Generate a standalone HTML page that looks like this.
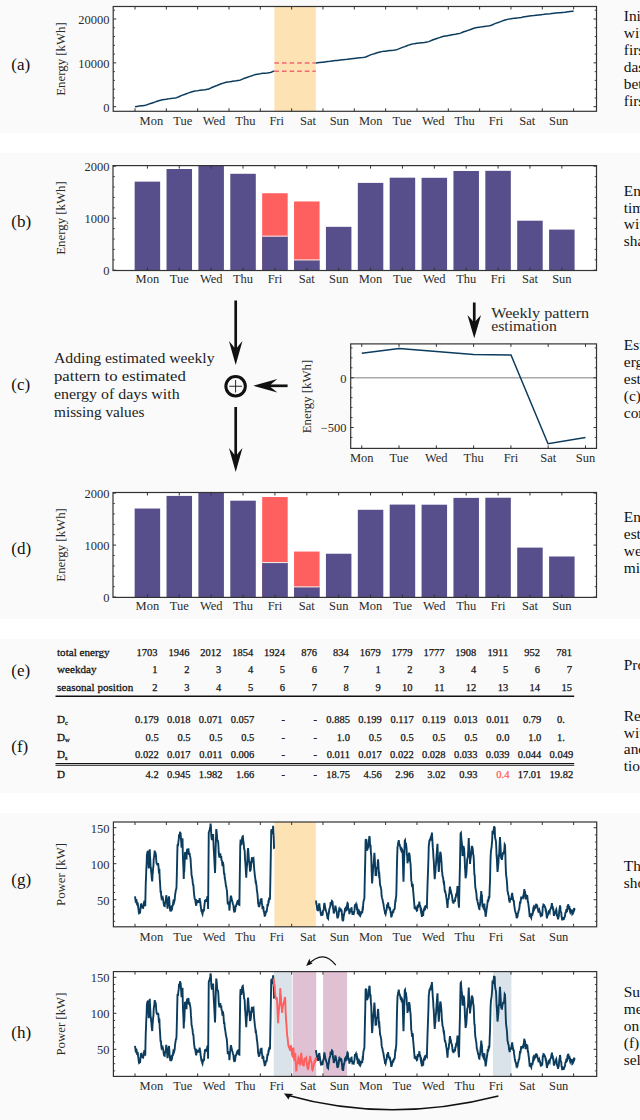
<!DOCTYPE html><html><head><meta charset="utf-8"><style>html,body{margin:0;padding:0;width:640px;height:1120px;overflow:hidden;background:#fff}</style></head><body><svg width="640" height="1120" viewBox="0 0 640 1120" style="display:block;font-family:'Liberation Serif', serif"><rect x="0" y="0" width="640" height="1120" fill="#ffffff"/>
<rect x="0" y="0" width="640" height="133" fill="#fafafa"/>
<rect x="0" y="153" width="640" height="466" fill="#fafafa"/>
<rect x="0" y="639" width="640" height="154" fill="#fafafa"/>
<rect x="0" y="813" width="640" height="307" fill="#fafafa"/>
<rect x="113.2" y="6.5" width="483.3" height="104.8" fill="#fff"/>
<rect x="274.4" y="6.5" width="41.4" height="104.8" fill="#fde3b4"/>
<path d="M135 106.7 L136.9 106.39 L139.4 106.06 L141.25 105.83 L142.5 105.66 L144.4 105.39 L145.25 105.27 L146 105.11 L146.9 104.81 L148.1 104.36 L148.75 104.13 L149.75 103.78 L150.6 103.47 L152.25 102.99 L153.75 102.52 L154.75 102.14 L156.25 101.58 L158.1 100.94 L159.4 100.52 L160.6 100.21 L162.5 99.84 L164.4 99.54 L166.25 99.25 L166.33 99.23 L166.33 99.23 L167.5 99.07 L168.75 98.88 L170.6 98.6 L172.5 98.35 L175 97.95 L176.5 97.65 L177.5 97.32 L178.75 96.79 L180 96.2 L181.25 95.63 L182.5 95.09 L183.75 94.67 L185 94.25 L186.25 93.79 L187.5 93.33 L189.4 92.59 L191.25 91.95 L193.1 91.45 L195 91.07 L196.25 90.88 L197.66 90.7 L197.66 90.7 L198.1 90.63 L200 90.32 L202.5 90.01 L205 89.71 L207.5 89.31 L208.1 89.22 L208.75 89.02 L210.6 88.12 L211.9 87.51 L213.1 86.97 L215 86.27 L216.25 85.81 L218.1 84.98 L219.4 84.48 L221.25 83.82 L222.5 83.39 L224.4 82.81 L226.25 82.35 L228.1 82.02 L228.99 81.88 L228.99 81.88 L229.4 81.83 L230.6 81.64 L232.5 81.32 L234.4 81.07 L236.25 80.84 L238.1 80.55 L239.4 80.35 L240.25 80.11 L242.5 79.12 L244.4 78.31 L246.25 77.69 L248.1 77.07 L250 76.4 L251.9 75.78 L253.75 75.13 L255.6 74.57 L257.5 74.15 L258.75 73.95 L260.32 73.75 L260.32 73.75 L261.25 73.61 L263.1 73.36 L265 73.16 L267.5 72.91 L270 72.58 L271.25 72.22 L273.1 71.42 L274.4 70.9" fill="none" stroke="#0b3c5d" stroke-width="1.5" stroke-linejoin="round"/>
<path d="M315.8 63 L316 62.97 L317.5 62.78 L319.4 62.55 L322.5 62.2 L322.98 62.16 L322.98 62.16 L324.4 61.94 L326.25 61.7 L327.5 61.58 L330 61.32 L332.25 61 L333.75 60.81 L335.6 60.59 L337.5 60.38 L340 60.11 L343.1 59.8 L345 59.62 L347.5 59.29 L349.4 59.05 L351.25 58.83 L353.75 58.55 L354.31 58.5 L354.31 58.5 L355.6 58.31 L357.5 58.06 L360 57.82 L362.5 57.57 L364.4 57.3 L365.6 56.94 L367.5 56.18 L369.4 55.39 L371.25 54.64 L372.1 54.39 L374.4 53.7 L375.6 53.31 L378.1 52.55 L380 52.01 L381.9 51.63 L383.75 51.35 L385.6 51.14 L385.64 51.14 L385.64 51.14 L388.1 50.77 L390 50.52 L391.25 50.4 L393.1 50.21 L395 49.97 L396.25 49.77 L397.5 49.4 L398.75 48.87 L400.6 48.09 L402.5 47.35 L403.5 47.04 L404.75 46.64 L406.25 46.03 L407.5 45.56 L409.4 44.9 L410.6 44.49 L411.25 44.3 L413.1 43.88 L414.4 43.65 L416.9 43.34 L416.97 43.34 L416.97 43.34 L419.4 42.98 L421.9 42.68 L424.4 42.43 L426.9 42.11 L428.75 41.6 L430 41.09 L431.9 40.27 L433.1 39.76 L434.75 39.23 L437.5 38.32 L438.75 37.88 L440.25 37.38 L441.9 36.82 L443.75 36.33 L445.6 35.95 L447.5 35.65 L448.3 35.54 L448.3 35.54 L450 35.17 L451.9 34.79 L453.75 34.49 L455.6 34.19 L457.5 33.83 L459 33.57 L460.6 33.11 L461.25 32.82 L462.5 32.29 L463.75 31.8 L465.6 31.18 L466.9 30.82 L468.75 30.16 L470 29.7 L471.9 29.01 L473.75 28.3 L475 27.92 L476.9 27.55 L479.4 27.2 L479.63 27.18 L479.63 27.18 L481.25 26.88 L482.5 26.68 L484.4 26.44 L485.6 26.32 L487.5 26.1 L489.4 25.81 L490.6 25.5 L492.5 24.77 L494.4 23.92 L496.25 23.14 L497.5 22.73 L500 21.87 L501.9 21.17 L505 20.06 L506.25 19.65 L507.5 19.37 L509.4 19.04 L510.96 18.8 L510.96 18.8 L512.5 18.51 L515 18.13 L516.9 17.95 L518.75 17.77 L521.25 17.41 L523.1 17.07 L526.25 16.49 L528.1 16.18 L529.4 16.01 L531.25 15.85 L533.75 15.61 L536.25 15.29 L538.75 14.98 L541.25 14.72 L542.29 14.62 L542.29 14.62 L544.4 14.32 L546.9 14.03 L550 13.72 L551.9 13.47 L553.75 13.26 L556.25 13 L558.1 12.83 L560 12.65 L562.5 12.4 L565 12.19 L568.1 11.83 L570 11.58 L572.5 11.3 L573.62 11.2" fill="none" stroke="#0b3c5d" stroke-width="1.5" stroke-linejoin="round"/>
<path d="M274.4 63H315.8 M274.4 71.25H315.8" stroke="#f06872" stroke-width="1.3" stroke-dasharray="4.6 3"/>
<rect x="113.2" y="6.5" width="483.3" height="104.8" fill="none" stroke="#333333" stroke-width="1.2"/>
<path d="M135 111.3V108.3 M135 6.5V9.5 M166.33 111.3V108.3 M166.33 6.5V9.5 M197.66 111.3V108.3 M197.66 6.5V9.5 M228.99 111.3V108.3 M228.99 6.5V9.5 M260.32 111.3V108.3 M260.32 6.5V9.5 M291.65 111.3V108.3 M291.65 6.5V9.5 M322.98 111.3V108.3 M322.98 6.5V9.5 M354.31 111.3V108.3 M354.31 6.5V9.5 M385.64 111.3V108.3 M385.64 6.5V9.5 M416.97 111.3V108.3 M416.97 6.5V9.5 M448.3 111.3V108.3 M448.3 6.5V9.5 M479.63 111.3V108.3 M479.63 6.5V9.5 M510.96 111.3V108.3 M510.96 6.5V9.5 M542.29 111.3V108.3 M542.29 6.5V9.5 M573.62 111.3V108.3 M573.62 6.5V9.5 " stroke="#333333" stroke-width="1"/>
<path d="M113.2 106.7H116.2 M596.5 106.7H593.5 M113.2 62.85H116.2 M596.5 62.85H593.5 M113.2 19H116.2 M596.5 19H593.5 " stroke="#333333" stroke-width="1"/>
<path d="M113.2 97.93H115 M596.5 97.93H594.7 M113.2 89.16H115 M596.5 89.16H594.7 M113.2 80.39H115 M596.5 80.39H594.7 M113.2 71.62H115 M596.5 71.62H594.7 M113.2 54.08H115 M596.5 54.08H594.7 M113.2 45.31H115 M596.5 45.31H594.7 M113.2 36.54H115 M596.5 36.54H594.7 M113.2 27.77H115 M596.5 27.77H594.7 M113.2 10.23H115 M596.5 10.23H594.7 " stroke="#333333" stroke-width="0.9"/>
<text x="0" y="0" transform="translate(151.36 124.5) scale(1.0400 1)" font-size="12" text-anchor="middle" fill="#2b2b2b" >Mon</text>
<text x="0" y="0" transform="translate(182.69 124.5) scale(1.0400 1)" font-size="12" text-anchor="middle" fill="#2b2b2b" >Tue</text>
<text x="0" y="0" transform="translate(214.02 124.5) scale(1.0400 1)" font-size="12" text-anchor="middle" fill="#2b2b2b" >Wed</text>
<text x="0" y="0" transform="translate(245.35 124.5) scale(1.0400 1)" font-size="12" text-anchor="middle" fill="#2b2b2b" >Thu</text>
<text x="0" y="0" transform="translate(276.68 124.5) scale(1.0400 1)" font-size="12" text-anchor="middle" fill="#2b2b2b" >Fri</text>
<text x="0" y="0" transform="translate(308.01 124.5) scale(1.0400 1)" font-size="12" text-anchor="middle" fill="#2b2b2b" >Sat</text>
<text x="0" y="0" transform="translate(339.34 124.5) scale(1.0400 1)" font-size="12" text-anchor="middle" fill="#2b2b2b" >Sun</text>
<text x="0" y="0" transform="translate(370.67 124.5) scale(1.0400 1)" font-size="12" text-anchor="middle" fill="#2b2b2b" >Mon</text>
<text x="0" y="0" transform="translate(402 124.5) scale(1.0400 1)" font-size="12" text-anchor="middle" fill="#2b2b2b" >Tue</text>
<text x="0" y="0" transform="translate(433.33 124.5) scale(1.0400 1)" font-size="12" text-anchor="middle" fill="#2b2b2b" >Wed</text>
<text x="0" y="0" transform="translate(464.66 124.5) scale(1.0400 1)" font-size="12" text-anchor="middle" fill="#2b2b2b" >Thu</text>
<text x="0" y="0" transform="translate(495.99 124.5) scale(1.0400 1)" font-size="12" text-anchor="middle" fill="#2b2b2b" >Fri</text>
<text x="0" y="0" transform="translate(527.33 124.5) scale(1.0400 1)" font-size="12" text-anchor="middle" fill="#2b2b2b" >Sat</text>
<text x="0" y="0" transform="translate(558.65 124.5) scale(1.0400 1)" font-size="12" text-anchor="middle" fill="#2b2b2b" >Sun</text>
<text x="0" y="0" transform="translate(109.5 111.5) scale(1.0400 1)" font-size="12" text-anchor="end" fill="#2b2b2b" >0</text>
<text x="0" y="0" transform="translate(109.5 67.65) scale(1.0400 1)" font-size="12" text-anchor="end" fill="#2b2b2b" >10000</text>
<text x="0" y="0" transform="translate(109.5 23.8) scale(1.0400 1)" font-size="12" text-anchor="end" fill="#2b2b2b" >20000</text>
<text x="0" y="0" font-size="12" text-anchor="middle" fill="#2b2b2b" transform="translate(60.8 59) rotate(-90) scale(1.0700 1)" dominant-baseline="central">Energy [kWh]</text>
<text x="11.3" y="70" font-size="17" text-anchor="start" fill="#111" >(a)</text>
<rect x="113" y="165.6" width="483.5" height="104.9" fill="#fff"/>
<g clip-path="url(#clipb0)">
<rect x="134.65" y="181.64" width="25.5" height="88.56" fill="#574f8b"/>
<rect x="166.53" y="169.01" width="25.5" height="101.19" fill="#574f8b"/>
<rect x="198.41" y="165.58" width="25.5" height="104.62" fill="#574f8b"/>
<rect x="230.29" y="173.79" width="25.5" height="96.41" fill="#574f8b"/>
<rect x="262.17" y="193.24" width="25.5" height="76.96" fill="#fe5f5f"/>
<rect x="262.17" y="236.45" width="25.5" height="33.75" fill="#574f8b"/>
<rect x="262.17" y="235.65" width="25.5" height="1" fill="#f4f0f0"/>
<rect x="294.05" y="201.46" width="25.5" height="68.74" fill="#fe5f5f"/>
<rect x="294.05" y="260.22" width="25.5" height="9.98" fill="#574f8b"/>
<rect x="294.05" y="259.42" width="25.5" height="1" fill="#f4f0f0"/>
<rect x="325.93" y="226.83" width="25.5" height="43.37" fill="#574f8b"/>
<rect x="357.81" y="182.89" width="25.5" height="87.31" fill="#574f8b"/>
<rect x="389.69" y="177.69" width="25.5" height="92.51" fill="#574f8b"/>
<rect x="421.57" y="177.8" width="25.5" height="92.4" fill="#574f8b"/>
<rect x="453.45" y="170.98" width="25.5" height="99.22" fill="#574f8b"/>
<rect x="485.33" y="170.83" width="25.5" height="99.37" fill="#574f8b"/>
<rect x="517.21" y="220.7" width="25.5" height="49.5" fill="#574f8b"/>
<rect x="549.09" y="229.59" width="25.5" height="40.61" fill="#574f8b"/>
</g>
<clipPath id="clipb0"><rect x="113" y="165.6" width="483.5" height="104.9"/></clipPath>
<rect x="113" y="165.6" width="483.5" height="104.9" fill="none" stroke="#333333" stroke-width="1.2"/>
<path d="M147.4 270.5V267.5 M147.4 165.6V168.6 M179.28 270.5V267.5 M179.28 165.6V168.6 M211.16 270.5V267.5 M211.16 165.6V168.6 M243.04 270.5V267.5 M243.04 165.6V168.6 M274.92 270.5V267.5 M274.92 165.6V168.6 M306.8 270.5V267.5 M306.8 165.6V168.6 M338.68 270.5V267.5 M338.68 165.6V168.6 M370.56 270.5V267.5 M370.56 165.6V168.6 M402.44 270.5V267.5 M402.44 165.6V168.6 M434.32 270.5V267.5 M434.32 165.6V168.6 M466.2 270.5V267.5 M466.2 165.6V168.6 M498.08 270.5V267.5 M498.08 165.6V168.6 M529.96 270.5V267.5 M529.96 165.6V168.6 M561.84 270.5V267.5 M561.84 165.6V168.6 " stroke="#333333" stroke-width="1"/>
<path d="M113 270.2H116 M596.5 270.2H593.5 M113 218.2H116 M596.5 218.2H593.5 M113 166.2H116 M596.5 166.2H593.5 " stroke="#333333" stroke-width="1"/>
<path d="M113 259.8H114.8 M596.5 259.8H594.7 M113 249.4H114.8 M596.5 249.4H594.7 M113 239H114.8 M596.5 239H594.7 M113 228.6H114.8 M596.5 228.6H594.7 M113 207.8H114.8 M596.5 207.8H594.7 M113 197.4H114.8 M596.5 197.4H594.7 M113 187H114.8 M596.5 187H594.7 M113 176.6H114.8 M596.5 176.6H594.7 " stroke="#333333" stroke-width="0.9"/>
<text x="0" y="0" transform="translate(147.4 282.9) scale(1.0400 1)" font-size="12" text-anchor="middle" fill="#2b2b2b" >Mon</text>
<text x="0" y="0" transform="translate(179.28 282.9) scale(1.0400 1)" font-size="12" text-anchor="middle" fill="#2b2b2b" >Tue</text>
<text x="0" y="0" transform="translate(211.16 282.9) scale(1.0400 1)" font-size="12" text-anchor="middle" fill="#2b2b2b" >Wed</text>
<text x="0" y="0" transform="translate(243.04 282.9) scale(1.0400 1)" font-size="12" text-anchor="middle" fill="#2b2b2b" >Thu</text>
<text x="0" y="0" transform="translate(274.92 282.9) scale(1.0400 1)" font-size="12" text-anchor="middle" fill="#2b2b2b" >Fri</text>
<text x="0" y="0" transform="translate(306.8 282.9) scale(1.0400 1)" font-size="12" text-anchor="middle" fill="#2b2b2b" >Sat</text>
<text x="0" y="0" transform="translate(338.68 282.9) scale(1.0400 1)" font-size="12" text-anchor="middle" fill="#2b2b2b" >Sun</text>
<text x="0" y="0" transform="translate(370.56 282.9) scale(1.0400 1)" font-size="12" text-anchor="middle" fill="#2b2b2b" >Mon</text>
<text x="0" y="0" transform="translate(402.44 282.9) scale(1.0400 1)" font-size="12" text-anchor="middle" fill="#2b2b2b" >Tue</text>
<text x="0" y="0" transform="translate(434.32 282.9) scale(1.0400 1)" font-size="12" text-anchor="middle" fill="#2b2b2b" >Wed</text>
<text x="0" y="0" transform="translate(466.2 282.9) scale(1.0400 1)" font-size="12" text-anchor="middle" fill="#2b2b2b" >Thu</text>
<text x="0" y="0" transform="translate(498.08 282.9) scale(1.0400 1)" font-size="12" text-anchor="middle" fill="#2b2b2b" >Fri</text>
<text x="0" y="0" transform="translate(529.96 282.9) scale(1.0400 1)" font-size="12" text-anchor="middle" fill="#2b2b2b" >Sat</text>
<text x="0" y="0" transform="translate(561.84 282.9) scale(1.0400 1)" font-size="12" text-anchor="middle" fill="#2b2b2b" >Sun</text>
<text x="0" y="0" transform="translate(109.5 275) scale(1.0400 1)" font-size="12" text-anchor="end" fill="#2b2b2b" >0</text>
<text x="0" y="0" transform="translate(109.5 223) scale(1.0400 1)" font-size="12" text-anchor="end" fill="#2b2b2b" >1000</text>
<text x="0" y="0" transform="translate(109.5 171) scale(1.0400 1)" font-size="12" text-anchor="end" fill="#2b2b2b" >2000</text>
<text x="0" y="0" font-size="12" text-anchor="middle" fill="#2b2b2b" transform="translate(60.8 218) rotate(-90) scale(1.0700 1)" dominant-baseline="central">Energy [kWh]</text>
<text x="11.3" y="227" font-size="17" text-anchor="start" fill="#111" >(b)</text>
<rect x="113" y="492.5" width="483.5" height="104.9" fill="#fff"/>
<g clip-path="url(#clipb326)">
<rect x="134.65" y="508.54" width="25.5" height="88.56" fill="#574f8b"/>
<rect x="166.53" y="495.91" width="25.5" height="101.19" fill="#574f8b"/>
<rect x="198.41" y="492.48" width="25.5" height="104.62" fill="#574f8b"/>
<rect x="230.29" y="500.69" width="25.5" height="96.41" fill="#574f8b"/>
<rect x="262.17" y="497.05" width="25.5" height="100.05" fill="#fe5f5f"/>
<rect x="262.17" y="562.88" width="25.5" height="34.22" fill="#574f8b"/>
<rect x="262.17" y="562.08" width="25.5" height="1" fill="#f4f0f0"/>
<rect x="294.05" y="551.55" width="25.5" height="45.55" fill="#fe5f5f"/>
<rect x="294.05" y="587.17" width="25.5" height="9.93" fill="#574f8b"/>
<rect x="294.05" y="586.37" width="25.5" height="1" fill="#f4f0f0"/>
<rect x="325.93" y="553.73" width="25.5" height="43.37" fill="#574f8b"/>
<rect x="357.81" y="509.79" width="25.5" height="87.31" fill="#574f8b"/>
<rect x="389.69" y="504.59" width="25.5" height="92.51" fill="#574f8b"/>
<rect x="421.57" y="504.7" width="25.5" height="92.4" fill="#574f8b"/>
<rect x="453.45" y="497.88" width="25.5" height="99.22" fill="#574f8b"/>
<rect x="485.33" y="497.73" width="25.5" height="99.37" fill="#574f8b"/>
<rect x="517.21" y="547.6" width="25.5" height="49.5" fill="#574f8b"/>
<rect x="549.09" y="556.49" width="25.5" height="40.61" fill="#574f8b"/>
</g>
<clipPath id="clipb326"><rect x="113" y="492.5" width="483.5" height="104.9"/></clipPath>
<rect x="113" y="492.5" width="483.5" height="104.9" fill="none" stroke="#333333" stroke-width="1.2"/>
<path d="M147.4 597.4V594.4 M147.4 492.5V495.5 M179.28 597.4V594.4 M179.28 492.5V495.5 M211.16 597.4V594.4 M211.16 492.5V495.5 M243.04 597.4V594.4 M243.04 492.5V495.5 M274.92 597.4V594.4 M274.92 492.5V495.5 M306.8 597.4V594.4 M306.8 492.5V495.5 M338.68 597.4V594.4 M338.68 492.5V495.5 M370.56 597.4V594.4 M370.56 492.5V495.5 M402.44 597.4V594.4 M402.44 492.5V495.5 M434.32 597.4V594.4 M434.32 492.5V495.5 M466.2 597.4V594.4 M466.2 492.5V495.5 M498.08 597.4V594.4 M498.08 492.5V495.5 M529.96 597.4V594.4 M529.96 492.5V495.5 M561.84 597.4V594.4 M561.84 492.5V495.5 " stroke="#333333" stroke-width="1"/>
<path d="M113 597.1H116 M596.5 597.1H593.5 M113 545.1H116 M596.5 545.1H593.5 M113 493.1H116 M596.5 493.1H593.5 " stroke="#333333" stroke-width="1"/>
<path d="M113 586.7H114.8 M596.5 586.7H594.7 M113 576.3H114.8 M596.5 576.3H594.7 M113 565.9H114.8 M596.5 565.9H594.7 M113 555.5H114.8 M596.5 555.5H594.7 M113 534.7H114.8 M596.5 534.7H594.7 M113 524.3H114.8 M596.5 524.3H594.7 M113 513.9H114.8 M596.5 513.9H594.7 M113 503.5H114.8 M596.5 503.5H594.7 " stroke="#333333" stroke-width="0.9"/>
<text x="0" y="0" transform="translate(147.4 609.8) scale(1.0400 1)" font-size="12" text-anchor="middle" fill="#2b2b2b" >Mon</text>
<text x="0" y="0" transform="translate(179.28 609.8) scale(1.0400 1)" font-size="12" text-anchor="middle" fill="#2b2b2b" >Tue</text>
<text x="0" y="0" transform="translate(211.16 609.8) scale(1.0400 1)" font-size="12" text-anchor="middle" fill="#2b2b2b" >Wed</text>
<text x="0" y="0" transform="translate(243.04 609.8) scale(1.0400 1)" font-size="12" text-anchor="middle" fill="#2b2b2b" >Thu</text>
<text x="0" y="0" transform="translate(274.92 609.8) scale(1.0400 1)" font-size="12" text-anchor="middle" fill="#2b2b2b" >Fri</text>
<text x="0" y="0" transform="translate(306.8 609.8) scale(1.0400 1)" font-size="12" text-anchor="middle" fill="#2b2b2b" >Sat</text>
<text x="0" y="0" transform="translate(338.68 609.8) scale(1.0400 1)" font-size="12" text-anchor="middle" fill="#2b2b2b" >Sun</text>
<text x="0" y="0" transform="translate(370.56 609.8) scale(1.0400 1)" font-size="12" text-anchor="middle" fill="#2b2b2b" >Mon</text>
<text x="0" y="0" transform="translate(402.44 609.8) scale(1.0400 1)" font-size="12" text-anchor="middle" fill="#2b2b2b" >Tue</text>
<text x="0" y="0" transform="translate(434.32 609.8) scale(1.0400 1)" font-size="12" text-anchor="middle" fill="#2b2b2b" >Wed</text>
<text x="0" y="0" transform="translate(466.2 609.8) scale(1.0400 1)" font-size="12" text-anchor="middle" fill="#2b2b2b" >Thu</text>
<text x="0" y="0" transform="translate(498.08 609.8) scale(1.0400 1)" font-size="12" text-anchor="middle" fill="#2b2b2b" >Fri</text>
<text x="0" y="0" transform="translate(529.96 609.8) scale(1.0400 1)" font-size="12" text-anchor="middle" fill="#2b2b2b" >Sat</text>
<text x="0" y="0" transform="translate(561.84 609.8) scale(1.0400 1)" font-size="12" text-anchor="middle" fill="#2b2b2b" >Sun</text>
<text x="0" y="0" transform="translate(109.5 601.9) scale(1.0400 1)" font-size="12" text-anchor="end" fill="#2b2b2b" >0</text>
<text x="0" y="0" transform="translate(109.5 549.9) scale(1.0400 1)" font-size="12" text-anchor="end" fill="#2b2b2b" >1000</text>
<text x="0" y="0" transform="translate(109.5 497.9) scale(1.0400 1)" font-size="12" text-anchor="end" fill="#2b2b2b" >2000</text>
<text x="0" y="0" font-size="12" text-anchor="middle" fill="#2b2b2b" transform="translate(60.8 544.9) rotate(-90) scale(1.0700 1)" dominant-baseline="central">Energy [kWh]</text>
<text x="11.3" y="553.6" font-size="17" text-anchor="start" fill="#111" >(d)</text>
<text x="11.3" y="390" font-size="17" text-anchor="start" fill="#111" >(c)</text>
<text x="0" y="0" transform="translate(54 363) scale(1.1560 1)" font-size="13.6" text-anchor="start" fill="#222" >Adding estimated weekly</text>
<text x="0" y="0" transform="translate(54 380.9) scale(1.2300 1)" font-size="13.6" text-anchor="start" fill="#222" >pattern to estimated</text>
<text x="0" y="0" transform="translate(54 398.8) scale(1.1700 1)" font-size="13.6" text-anchor="start" fill="#222" >energy of days with</text>
<text x="0" y="0" transform="translate(54 416.7) scale(1.1250 1)" font-size="13.6" text-anchor="start" fill="#222" >missing values</text>
<path d="M235.7 300.5V355" stroke="#111" stroke-width="2.7"/>
<path d="M235.7 365 L228.95 341 Q233.5 346.3 234.3 347.5 L237.1 347.5 Q237.9 346.3 242.45 341 Z" fill="#111"/>
<path d="M235.7 407V462" stroke="#111" stroke-width="2.7"/>
<path d="M235.7 472 L228.95 448 Q233.5 453.3 234.3 454.5 L237.1 454.5 Q237.9 453.3 242.45 448 Z" fill="#111"/>
<path d="M287.6 385.8H263" stroke="#111" stroke-width="2.7"/>
<path d="M253.3 385.8 L246.55 361.8 Q251.1 367.1 251.9 368.3 L254.7 368.3 Q255.5 367.1 260.05 361.8 Z" fill="#111" transform="rotate(90 253.3 385.8)"/>
<circle cx="235.6" cy="386.25" r="9.75" fill="none" stroke="#111" stroke-width="3"/>
<path d="M229.2 386.25H242 M235.6 380V392.5" stroke="#111" stroke-width="0.9"/>
<rect x="350.7" y="343.9" width="245.8" height="104.5" fill="#fff"/>
<path d="M350.7 377.75H596.5" stroke="#aaaaaa" stroke-width="1.4"/>
<path d="M361.75 353.25 L399.1 348.6 L436.4 351.6 L473.5 354.6 L511 354.9 L548 443.75 L585.5 437.5" fill="none" stroke="#0b3c5d" stroke-width="1.5"/>
<rect x="350.7" y="343.9" width="245.8" height="104.5" fill="none" stroke="#333333" stroke-width="1.2"/>
<path d="M361.75 448.4V445.4 M361.75 343.9V346.9 M399.04 448.4V445.4 M399.04 343.9V346.9 M436.33 448.4V445.4 M436.33 343.9V346.9 M473.62 448.4V445.4 M473.62 343.9V346.9 M510.91 448.4V445.4 M510.91 343.9V346.9 M548.2 448.4V445.4 M548.2 343.9V346.9 M585.49 448.4V445.4 M585.49 343.9V346.9 " stroke="#333333" stroke-width="1"/>
<path d="M350.7 377.75H353.7 M596.5 377.75H593.5 M350.7 427.5H353.7 M596.5 427.5H593.5 " stroke="#333333" stroke-width="1"/>
<path d="M350.7 437.45H352.5 M596.5 437.45H594.7 M350.7 417.55H352.5 M596.5 417.55H594.7 M350.7 407.6H352.5 M596.5 407.6H594.7 M350.7 397.65H352.5 M596.5 397.65H594.7 M350.7 387.7H352.5 M596.5 387.7H594.7 M350.7 367.8H352.5 M596.5 367.8H594.7 M350.7 357.85H352.5 M596.5 357.85H594.7 M350.7 347.9H352.5 M596.5 347.9H594.7 " stroke="#333333" stroke-width="0.9"/>
<text x="0" y="0" transform="translate(361.75 462) scale(1.0400 1)" font-size="12" text-anchor="middle" fill="#2b2b2b" >Mon</text>
<text x="0" y="0" transform="translate(399.04 462) scale(1.0400 1)" font-size="12" text-anchor="middle" fill="#2b2b2b" >Tue</text>
<text x="0" y="0" transform="translate(436.33 462) scale(1.0400 1)" font-size="12" text-anchor="middle" fill="#2b2b2b" >Wed</text>
<text x="0" y="0" transform="translate(473.62 462) scale(1.0400 1)" font-size="12" text-anchor="middle" fill="#2b2b2b" >Thu</text>
<text x="0" y="0" transform="translate(510.91 462) scale(1.0400 1)" font-size="12" text-anchor="middle" fill="#2b2b2b" >Fri</text>
<text x="0" y="0" transform="translate(548.2 462) scale(1.0400 1)" font-size="12" text-anchor="middle" fill="#2b2b2b" >Sat</text>
<text x="0" y="0" transform="translate(585.49 462) scale(1.0400 1)" font-size="12" text-anchor="middle" fill="#2b2b2b" >Sun</text>
<text x="0" y="0" transform="translate(346.5 382.55) scale(1.0400 1)" font-size="12" text-anchor="end" fill="#2b2b2b" >0</text>
<text x="0" y="0" transform="translate(346.5 432.3) scale(1.0400 1)" font-size="12" text-anchor="end" fill="#2b2b2b" >−500</text>
<text x="0" y="0" font-size="12" text-anchor="middle" fill="#2b2b2b" transform="translate(306.8 396.5) rotate(-90) scale(1.0700 1)" dominant-baseline="central">Energy [kWh]</text>
<path d="M474.25 302.5V328" stroke="#111" stroke-width="2.7"/>
<path d="M474.25 338.2 L467.45 315 Q472.05 320 472.85 321.2 L475.65 321.2 Q476.45 320 481.05 315 Z" fill="#111"/>
<text x="0" y="0" transform="translate(491.2 318) scale(1.1900 1)" font-size="13.6" text-anchor="start" fill="#2b2b2b" >Weekly pattern</text>
<text x="0" y="0" transform="translate(491.2 331.3) scale(1.1600 1)" font-size="13.6" text-anchor="start" fill="#2b2b2b" >estimation</text>
<text x="11.3" y="675.7" font-size="17" text-anchor="start" fill="#111" >(e)</text>
<text x="11.3" y="752" font-size="17" text-anchor="start" fill="#111" >(f)</text>
<text x="0" y="0" transform="translate(57 655.5) scale(1.0600 1)" font-size="10.5" text-anchor="start" fill="#111" stroke="#111" stroke-width="0.25">total energy</text>
<text x="157.5" y="655.5" font-size="10.5" text-anchor="end" fill="#111" stroke="#111" stroke-width="0.25">1703</text>
<text x="189.38" y="655.5" font-size="10.5" text-anchor="end" fill="#111" stroke="#111" stroke-width="0.25">1946</text>
<text x="221.26" y="655.5" font-size="10.5" text-anchor="end" fill="#111" stroke="#111" stroke-width="0.25">2012</text>
<text x="253.14" y="655.5" font-size="10.5" text-anchor="end" fill="#111" stroke="#111" stroke-width="0.25">1854</text>
<text x="285.02" y="655.5" font-size="10.5" text-anchor="end" fill="#111" stroke="#111" stroke-width="0.25">1924</text>
<text x="316.9" y="655.5" font-size="10.5" text-anchor="end" fill="#111" stroke="#111" stroke-width="0.25">876</text>
<text x="348.78" y="655.5" font-size="10.5" text-anchor="end" fill="#111" stroke="#111" stroke-width="0.25">834</text>
<text x="380.66" y="655.5" font-size="10.5" text-anchor="end" fill="#111" stroke="#111" stroke-width="0.25">1679</text>
<text x="412.54" y="655.5" font-size="10.5" text-anchor="end" fill="#111" stroke="#111" stroke-width="0.25">1779</text>
<text x="444.42" y="655.5" font-size="10.5" text-anchor="end" fill="#111" stroke="#111" stroke-width="0.25">1777</text>
<text x="476.3" y="655.5" font-size="10.5" text-anchor="end" fill="#111" stroke="#111" stroke-width="0.25">1908</text>
<text x="508.18" y="655.5" font-size="10.5" text-anchor="end" fill="#111" stroke="#111" stroke-width="0.25">1911</text>
<text x="540.06" y="655.5" font-size="10.5" text-anchor="end" fill="#111" stroke="#111" stroke-width="0.25">952</text>
<text x="571.94" y="655.5" font-size="10.5" text-anchor="end" fill="#111" stroke="#111" stroke-width="0.25">781</text>
<text x="0" y="0" transform="translate(57 673) scale(1.0600 1)" font-size="10.5" text-anchor="start" fill="#111" stroke="#111" stroke-width="0.25">weekday</text>
<text x="157.5" y="673" font-size="10.5" text-anchor="end" fill="#111" stroke="#111" stroke-width="0.25">1</text>
<text x="189.38" y="673" font-size="10.5" text-anchor="end" fill="#111" stroke="#111" stroke-width="0.25">2</text>
<text x="221.26" y="673" font-size="10.5" text-anchor="end" fill="#111" stroke="#111" stroke-width="0.25">3</text>
<text x="253.14" y="673" font-size="10.5" text-anchor="end" fill="#111" stroke="#111" stroke-width="0.25">4</text>
<text x="285.02" y="673" font-size="10.5" text-anchor="end" fill="#111" stroke="#111" stroke-width="0.25">5</text>
<text x="316.9" y="673" font-size="10.5" text-anchor="end" fill="#111" stroke="#111" stroke-width="0.25">6</text>
<text x="348.78" y="673" font-size="10.5" text-anchor="end" fill="#111" stroke="#111" stroke-width="0.25">7</text>
<text x="380.66" y="673" font-size="10.5" text-anchor="end" fill="#111" stroke="#111" stroke-width="0.25">1</text>
<text x="412.54" y="673" font-size="10.5" text-anchor="end" fill="#111" stroke="#111" stroke-width="0.25">2</text>
<text x="444.42" y="673" font-size="10.5" text-anchor="end" fill="#111" stroke="#111" stroke-width="0.25">3</text>
<text x="476.3" y="673" font-size="10.5" text-anchor="end" fill="#111" stroke="#111" stroke-width="0.25">4</text>
<text x="508.18" y="673" font-size="10.5" text-anchor="end" fill="#111" stroke="#111" stroke-width="0.25">5</text>
<text x="540.06" y="673" font-size="10.5" text-anchor="end" fill="#111" stroke="#111" stroke-width="0.25">6</text>
<text x="571.94" y="673" font-size="10.5" text-anchor="end" fill="#111" stroke="#111" stroke-width="0.25">7</text>
<text x="0" y="0" transform="translate(57 690.5) scale(1.0600 1)" font-size="10.5" text-anchor="start" fill="#111" stroke="#111" stroke-width="0.25">seasonal position</text>
<text x="157.5" y="690.5" font-size="10.5" text-anchor="end" fill="#111" stroke="#111" stroke-width="0.25">2</text>
<text x="189.38" y="690.5" font-size="10.5" text-anchor="end" fill="#111" stroke="#111" stroke-width="0.25">3</text>
<text x="221.26" y="690.5" font-size="10.5" text-anchor="end" fill="#111" stroke="#111" stroke-width="0.25">4</text>
<text x="253.14" y="690.5" font-size="10.5" text-anchor="end" fill="#111" stroke="#111" stroke-width="0.25">5</text>
<text x="285.02" y="690.5" font-size="10.5" text-anchor="end" fill="#111" stroke="#111" stroke-width="0.25">6</text>
<text x="316.9" y="690.5" font-size="10.5" text-anchor="end" fill="#111" stroke="#111" stroke-width="0.25">7</text>
<text x="348.78" y="690.5" font-size="10.5" text-anchor="end" fill="#111" stroke="#111" stroke-width="0.25">8</text>
<text x="380.66" y="690.5" font-size="10.5" text-anchor="end" fill="#111" stroke="#111" stroke-width="0.25">9</text>
<text x="412.54" y="690.5" font-size="10.5" text-anchor="end" fill="#111" stroke="#111" stroke-width="0.25">10</text>
<text x="444.42" y="690.5" font-size="10.5" text-anchor="end" fill="#111" stroke="#111" stroke-width="0.25">11</text>
<text x="476.3" y="690.5" font-size="10.5" text-anchor="end" fill="#111" stroke="#111" stroke-width="0.25">12</text>
<text x="508.18" y="690.5" font-size="10.5" text-anchor="end" fill="#111" stroke="#111" stroke-width="0.25">13</text>
<text x="540.06" y="690.5" font-size="10.5" text-anchor="end" fill="#111" stroke="#111" stroke-width="0.25">14</text>
<text x="571.94" y="690.5" font-size="10.5" text-anchor="end" fill="#111" stroke="#111" stroke-width="0.25">15</text>
<path d="M55.5 696.25H574.2" stroke="#111" stroke-width="1.4"/>
<text x="0" y="0" transform="translate(57 723) scale(1.0600 1)" font-size="10.5" text-anchor="start" fill="#111" stroke="#111" stroke-width="0.25">D<tspan font-size="6" dy="1.5">c</tspan></text>
<text x="158.7" y="723" font-size="10.5" text-anchor="end" fill="#111" stroke="#111" stroke-width="0.25">0.179</text>
<text x="190.58" y="723" font-size="10.5" text-anchor="end" fill="#111" stroke="#111" stroke-width="0.25">0.018</text>
<text x="222.46" y="723" font-size="10.5" text-anchor="end" fill="#111" stroke="#111" stroke-width="0.25">0.071</text>
<text x="254.34" y="723" font-size="10.5" text-anchor="end" fill="#111" stroke="#111" stroke-width="0.25">0.057</text>
<text x="285.02" y="723" font-size="10.5" text-anchor="end" fill="#111" stroke="#111" stroke-width="0.25">-</text>
<text x="316.9" y="723" font-size="10.5" text-anchor="end" fill="#111" stroke="#111" stroke-width="0.25">-</text>
<text x="349.98" y="723" font-size="10.5" text-anchor="end" fill="#111" stroke="#111" stroke-width="0.25">0.885</text>
<text x="381.86" y="723" font-size="10.5" text-anchor="end" fill="#111" stroke="#111" stroke-width="0.25">0.199</text>
<text x="413.74" y="723" font-size="10.5" text-anchor="end" fill="#111" stroke="#111" stroke-width="0.25">0.117</text>
<text x="445.62" y="723" font-size="10.5" text-anchor="end" fill="#111" stroke="#111" stroke-width="0.25">0.119</text>
<text x="477.5" y="723" font-size="10.5" text-anchor="end" fill="#111" stroke="#111" stroke-width="0.25">0.013</text>
<text x="509.38" y="723" font-size="10.5" text-anchor="end" fill="#111" stroke="#111" stroke-width="0.25">0.011</text>
<text x="541.26" y="723" font-size="10.5" text-anchor="end" fill="#111" stroke="#111" stroke-width="0.25">0.79</text>
<text x="564.94" y="723" font-size="10.5" text-anchor="end" fill="#111" stroke="#111" stroke-width="0.25">0.</text>
<text x="0" y="0" transform="translate(57 740.5) scale(1.0600 1)" font-size="10.5" text-anchor="start" fill="#111" stroke="#111" stroke-width="0.25">D<tspan font-size="6" dy="1.5">w</tspan></text>
<text x="158.7" y="740.5" font-size="10.5" text-anchor="end" fill="#111" stroke="#111" stroke-width="0.25">0.5</text>
<text x="190.58" y="740.5" font-size="10.5" text-anchor="end" fill="#111" stroke="#111" stroke-width="0.25">0.5</text>
<text x="222.46" y="740.5" font-size="10.5" text-anchor="end" fill="#111" stroke="#111" stroke-width="0.25">0.5</text>
<text x="254.34" y="740.5" font-size="10.5" text-anchor="end" fill="#111" stroke="#111" stroke-width="0.25">0.5</text>
<text x="285.02" y="740.5" font-size="10.5" text-anchor="end" fill="#111" stroke="#111" stroke-width="0.25">-</text>
<text x="316.9" y="740.5" font-size="10.5" text-anchor="end" fill="#111" stroke="#111" stroke-width="0.25">-</text>
<text x="349.98" y="740.5" font-size="10.5" text-anchor="end" fill="#111" stroke="#111" stroke-width="0.25">1.0</text>
<text x="381.86" y="740.5" font-size="10.5" text-anchor="end" fill="#111" stroke="#111" stroke-width="0.25">0.5</text>
<text x="413.74" y="740.5" font-size="10.5" text-anchor="end" fill="#111" stroke="#111" stroke-width="0.25">0.5</text>
<text x="445.62" y="740.5" font-size="10.5" text-anchor="end" fill="#111" stroke="#111" stroke-width="0.25">0.5</text>
<text x="477.5" y="740.5" font-size="10.5" text-anchor="end" fill="#111" stroke="#111" stroke-width="0.25">0.5</text>
<text x="509.38" y="740.5" font-size="10.5" text-anchor="end" fill="#111" stroke="#111" stroke-width="0.25">0.0</text>
<text x="541.26" y="740.5" font-size="10.5" text-anchor="end" fill="#111" stroke="#111" stroke-width="0.25">1.0</text>
<text x="564.94" y="740.5" font-size="10.5" text-anchor="end" fill="#111" stroke="#111" stroke-width="0.25">1.</text>
<text x="0" y="0" transform="translate(57 758) scale(1.0600 1)" font-size="10.5" text-anchor="start" fill="#111" stroke="#111" stroke-width="0.25">D<tspan font-size="6" dy="1.5">s</tspan></text>
<text x="158.7" y="758" font-size="10.5" text-anchor="end" fill="#111" stroke="#111" stroke-width="0.25">0.022</text>
<text x="190.58" y="758" font-size="10.5" text-anchor="end" fill="#111" stroke="#111" stroke-width="0.25">0.017</text>
<text x="222.46" y="758" font-size="10.5" text-anchor="end" fill="#111" stroke="#111" stroke-width="0.25">0.011</text>
<text x="254.34" y="758" font-size="10.5" text-anchor="end" fill="#111" stroke="#111" stroke-width="0.25">0.006</text>
<text x="285.02" y="758" font-size="10.5" text-anchor="end" fill="#111" stroke="#111" stroke-width="0.25">-</text>
<text x="316.9" y="758" font-size="10.5" text-anchor="end" fill="#111" stroke="#111" stroke-width="0.25">-</text>
<text x="349.98" y="758" font-size="10.5" text-anchor="end" fill="#111" stroke="#111" stroke-width="0.25">0.011</text>
<text x="381.86" y="758" font-size="10.5" text-anchor="end" fill="#111" stroke="#111" stroke-width="0.25">0.017</text>
<text x="413.74" y="758" font-size="10.5" text-anchor="end" fill="#111" stroke="#111" stroke-width="0.25">0.022</text>
<text x="445.62" y="758" font-size="10.5" text-anchor="end" fill="#111" stroke="#111" stroke-width="0.25">0.028</text>
<text x="477.5" y="758" font-size="10.5" text-anchor="end" fill="#111" stroke="#111" stroke-width="0.25">0.033</text>
<text x="509.38" y="758" font-size="10.5" text-anchor="end" fill="#111" stroke="#111" stroke-width="0.25">0.039</text>
<text x="541.26" y="758" font-size="10.5" text-anchor="end" fill="#111" stroke="#111" stroke-width="0.25">0.044</text>
<text x="573.14" y="758" font-size="10.5" text-anchor="end" fill="#111" stroke="#111" stroke-width="0.25">0.049</text>
<text x="0" y="0" transform="translate(57 778) scale(1.0600 1)" font-size="10.5" text-anchor="start" fill="#111" stroke="#111" stroke-width="0.25">D</text>
<text x="158.7" y="778" font-size="10.5" text-anchor="end" fill="#111" stroke="#111" stroke-width="0.25">4.2</text>
<text x="190.58" y="778" font-size="10.5" text-anchor="end" fill="#111" stroke="#111" stroke-width="0.25">0.945</text>
<text x="222.46" y="778" font-size="10.5" text-anchor="end" fill="#111" stroke="#111" stroke-width="0.25">1.982</text>
<text x="254.34" y="778" font-size="10.5" text-anchor="end" fill="#111" stroke="#111" stroke-width="0.25">1.66</text>
<text x="285.02" y="778" font-size="10.5" text-anchor="end" fill="#111" stroke="#111" stroke-width="0.25">-</text>
<text x="316.9" y="778" font-size="10.5" text-anchor="end" fill="#111" stroke="#111" stroke-width="0.25">-</text>
<text x="349.98" y="778" font-size="10.5" text-anchor="end" fill="#111" stroke="#111" stroke-width="0.25">18.75</text>
<text x="381.86" y="778" font-size="10.5" text-anchor="end" fill="#111" stroke="#111" stroke-width="0.25">4.56</text>
<text x="413.74" y="778" font-size="10.5" text-anchor="end" fill="#111" stroke="#111" stroke-width="0.25">2.96</text>
<text x="445.62" y="778" font-size="10.5" text-anchor="end" fill="#111" stroke="#111" stroke-width="0.25">3.02</text>
<text x="477.5" y="778" font-size="10.5" text-anchor="end" fill="#111" stroke="#111" stroke-width="0.25">0.93</text>
<text x="509.38" y="778" font-size="10.5" text-anchor="end" fill="#ff5a5a" stroke="#ff5a5a" stroke-width="0.25">0.4</text>
<text x="541.26" y="778" font-size="10.5" text-anchor="end" fill="#111" stroke="#111" stroke-width="0.25">17.01</text>
<text x="573.14" y="778" font-size="10.5" text-anchor="end" fill="#111" stroke="#111" stroke-width="0.25">19.82</text>
<path d="M55.5 763.5H574.2 M55.5 765.3H574.2" stroke="#111" stroke-width="1.1"/>
<rect x="113.4" y="822" width="483.3" height="104.8" fill="#fff"/>
<rect x="274.4" y="822" width="41.4" height="104.8" fill="#fde3b4"/>
<path d="M135 896.35 L135.32 898.49 L135.63 900.8 L135.95 900.2 L136.27 899.12 L136.58 900.72 L136.9 902.65 L137.21 905.29 L137.53 903.95 L137.84 903.77 L138.15 907.06 L138.46 908.97 L138.78 911.99 L139.09 913.32 L139.4 913.06 L139.71 910.94 L140.02 913.3 L140.32 909.89 L140.63 906.92 L140.94 904.37 L141.25 904.24 L141.56 905.45 L141.88 905.68 L142.19 906.5 L142.5 907.7 L142.82 907.73 L143.13 907.9 L143.45 906.33 L143.77 902.33 L144.08 903.39 L144.4 900.54 L144.68 902.95 L144.97 903.16 L145.25 906.17 L145.5 894.03 L145.75 883.61 L146 878.11 L146.3 869.8 L146.6 864.66 L146.9 855.08 L147.2 853.52 L147.5 853.9 L147.8 851.76 L148.1 850.88 L148.43 860.64 L148.75 868.49 L149 865 L149.25 857.93 L149.5 857.17 L149.75 849.23 L150.03 855.81 L150.32 860.41 L150.6 867.21 L150.88 867.49 L151.15 871.81 L151.43 873.19 L151.7 877.55 L151.97 879.85 L152.25 881.41 L152.55 874.85 L152.85 872.06 L153.15 867.9 L153.45 865.87 L153.75 858.69 L154 857.19 L154.25 855.35 L154.5 852.96 L154.75 850.61 L155.05 852.5 L155.35 852.91 L155.65 853.34 L155.95 855.88 L156.25 860.16 L156.56 863.25 L156.87 863.84 L157.18 864.39 L157.48 864.23 L157.79 864.1 L158.1 863.14 L158.43 865.86 L158.75 870.17 L159.07 869.48 L159.4 869.57 L159.7 878.22 L160 882.02 L160.3 887.57 L160.6 892.63 L160.92 890.84 L161.23 895.96 L161.55 898.12 L161.87 897.44 L162.18 898.57 L162.5 898.84 L162.82 898.17 L163.13 899.55 L163.45 901.55 L163.77 904.21 L164.08 905.6 L164.4 906.01 L164.71 906.15 L165.02 902.64 L165.32 902.43 L165.63 902.15 L165.94 899.41 L166.25 895.26 L166.56 897.29 L166.88 901.01 L167.19 904.37 L167.5 908.57 L167.81 903.82 L168.12 901.76 L168.44 900.54 L168.75 897.7 L169.06 896.35 L169.37 901.18 L169.68 906.74 L169.98 908.74 L170.29 908.08 L170.6 909.51 L170.92 909.02 L171.23 911.43 L171.55 909.5 L171.87 907.3 L172.18 907.71 L172.5 905.09 L172.81 906.25 L173.12 902.87 L173.44 901.08 L173.75 901.47 L174.06 902.26 L174.38 901.2 L174.69 899.78 L175 895.63 L175.3 893.52 L175.6 891.6 L175.9 889.74 L176.2 889.53 L176.5 886.99 L176.75 877.98 L177 866.95 L177.25 855.3 L177.5 845.1 L177.81 844.74 L178.12 844.89 L178.44 841.38 L178.75 839.54 L179.06 834.22 L179.38 836.95 L179.69 836.73 L180 831.71 L180.31 832.91 L180.62 833.37 L180.94 838.32 L181.25 842.43 L181.56 847.58 L181.88 846.05 L182.19 843.19 L182.5 838.28 L182.81 852.98 L183.12 862.33 L183.44 868.26 L183.75 878.96 L184.06 868.79 L184.38 869.28 L184.69 861.26 L185 852.31 L185.31 853.61 L185.62 852.01 L185.94 857.01 L186.25 858.48 L186.56 858.54 L186.88 851.53 L187.19 848.9 L187.5 850.45 L187.82 854.29 L188.13 850.62 L188.45 848.38 L188.77 852.57 L189.08 854.91 L189.4 852.62 L189.71 854.08 L190.02 855.98 L190.32 857.13 L190.63 859.86 L190.94 866.04 L191.25 869.2 L191.56 875.4 L191.87 876.3 L192.18 878.33 L192.48 879.61 L192.79 883.35 L193.1 885.03 L193.42 885.17 L193.73 889.9 L194.05 894.2 L194.37 896.26 L194.68 898.82 L195 899.36 L195.31 899.92 L195.62 902.58 L195.94 904.52 L196.25 905.7 L196.56 902.98 L196.87 901.29 L197.18 901.89 L197.48 901.78 L197.79 900.23 L198.1 901.49 L198.42 901.16 L198.73 901.65 L199.05 902.86 L199.37 900.7 L199.68 898.09 L200 900.68 L200.31 901.63 L200.62 905.77 L200.94 907.36 L201.25 909.96 L201.56 911.8 L201.88 909.61 L202.19 913.31 L202.5 914.09 L202.81 912.08 L203.12 910.82 L203.44 911.17 L203.75 910.81 L204.06 910.1 L204.38 905.31 L204.69 903.7 L205 899.7 L205.31 900.8 L205.62 901.94 L205.94 900.21 L206.25 900.37 L206.56 900.04 L206.88 900.59 L207.19 897.87 L207.5 896.11 L207.8 900.73 L208.1 909.07 L208.43 872.15 L208.75 832.36 L209.06 831.59 L209.37 830.59 L209.68 829.92 L209.98 828.31 L210.29 826.85 L210.6 823.7 L210.93 826.82 L211.25 835 L211.57 838.08 L211.9 840.04 L212.2 837.98 L212.5 837.1 L212.8 836.84 L213.1 834 L213.42 841.81 L213.73 849.23 L214.05 854.35 L214.37 860.34 L214.68 866.47 L215 872.96 L215.31 865.19 L215.62 849.27 L215.94 840 L216.25 829.04 L216.56 830.85 L216.87 834.24 L217.18 839.13 L217.48 840.1 L217.79 840.99 L218.1 841.28 L218.43 845.99 L218.75 852.71 L219.07 855.56 L219.4 857.72 L219.71 855.75 L220.02 854.75 L220.32 853.36 L220.63 857.31 L220.94 857.49 L221.25 856.08 L221.56 860.94 L221.88 860.12 L222.19 863.39 L222.5 866.04 L222.82 863.65 L223.13 863.3 L223.45 865.15 L223.77 870.26 L224.08 874.33 L224.4 872.7 L224.71 877.75 L225.02 879.16 L225.32 881.22 L225.63 883.37 L225.94 886.17 L226.25 886.64 L226.56 888.68 L226.87 890.31 L227.18 894.62 L227.48 900 L227.79 904.47 L228.1 903.33 L228.43 901.75 L228.75 903.74 L229.07 904.93 L229.4 910.56 L229.7 907.33 L230 902.33 L230.3 900.61 L230.6 897.65 L230.92 895.65 L231.23 896.76 L231.55 898.25 L231.87 899.88 L232.18 901.38 L232.5 901.98 L232.82 903.97 L233.13 904.6 L233.45 905.21 L233.77 909.62 L234.08 910.94 L234.4 912.44 L234.71 908.57 L235.02 908.11 L235.32 908.75 L235.63 905.59 L235.94 906.83 L236.25 904.85 L236.56 904.45 L236.87 902.97 L237.18 902.21 L237.48 902.69 L237.79 900.15 L238.1 901.15 L238.43 900.73 L238.75 901.25 L239.07 904.74 L239.4 904.94 L239.68 883.75 L239.97 864.86 L240.25 845.72 L240.57 839.47 L240.89 841.04 L241.21 844.55 L241.54 844.42 L241.86 840.78 L242.18 837.79 L242.5 836.63 L242.82 836.36 L243.13 839.15 L243.45 841.66 L243.77 843.95 L244.08 848.89 L244.4 849.27 L244.71 851.02 L245.02 859.47 L245.32 862.06 L245.63 867.08 L245.94 872.68 L246.25 877.63 L246.56 870.89 L246.87 866.07 L247.18 865.57 L247.48 857.13 L247.79 851.08 L248.1 848.01 L248.42 852.85 L248.73 857.5 L249.05 862.22 L249.37 861.36 L249.68 865.33 L250 871.39 L250.32 870.35 L250.63 870.08 L250.95 867.18 L251.27 863.13 L251.58 860.39 L251.9 857.27 L252.21 858.5 L252.52 860.27 L252.82 859.47 L253.13 858.45 L253.44 858.18 L253.75 862.16 L254.06 867.26 L254.37 870.78 L254.68 873.82 L254.98 876.82 L255.29 878.41 L255.6 881.88 L255.92 881.71 L256.23 884.28 L256.55 885.98 L256.87 890.36 L257.18 891.81 L257.5 894.49 L257.81 898.44 L258.12 903.31 L258.44 904.29 L258.75 906.15 L259.06 907.03 L259.38 904.31 L259.69 904.66 L260 902.94 L260.31 902.26 L260.62 899.05 L260.94 900.52 L261.25 899.09 L261.56 899.12 L261.87 903.72 L262.18 904.52 L262.48 909.26 L262.79 907.7 L263.1 906.28 L263.42 907.67 L263.73 911.39 L264.05 911.91 L264.37 913.77 L264.68 915.74 L265 915.66 L265.31 915.04 L265.62 913.3 L265.94 910.84 L266.25 912.03 L266.56 911.79 L266.88 910.3 L267.19 907.63 L267.5 904.21 L267.81 905.44 L268.12 904.69 L268.44 901.55 L268.75 901.71 L269.06 899.19 L269.38 899.48 L269.69 899.32 L270 898.99 L270.31 882.66 L270.62 866.19 L270.94 846.93 L271.25 830.58 L271.56 829.88 L271.87 829.89 L272.18 830.76 L272.48 831.73 L272.79 834.23 L273.1 825.8 L273.43 833.34 L273.75 838.18 L274.07 848.44 L274.4 848.75" fill="none" stroke="#0b3c5d" stroke-width="1.9" stroke-linejoin="miter"/>
<path d="M316 900.48 L316.3 903.31 L316.6 904.77 L316.9 905.96 L317.2 909.33 L317.5 910.51 L317.82 909.25 L318.13 911.21 L318.45 908.66 L318.77 906 L319.08 904.2 L319.4 904.18 L319.71 906.89 L320.02 908.89 L320.33 910.66 L320.64 912.92 L320.95 914.25 L321.26 913.81 L321.57 914.93 L321.88 914.93 L322.19 913.6 L322.5 915.27 L322.82 912.78 L323.13 910.23 L323.45 911.12 L323.77 908.91 L324.08 905.09 L324.4 902.82 L324.71 907.29 L325.02 906.5 L325.32 908.12 L325.63 909.39 L325.94 910.49 L326.25 911.78 L326.56 912.47 L326.88 913.94 L327.19 916.2 L327.5 918.14 L327.81 918.26 L328.12 918.66 L328.44 914.71 L328.75 914.07 L329.06 910.88 L329.38 908.99 L329.69 907.98 L330 907.27 L330.32 906.04 L330.64 901.95 L330.96 905.17 L331.29 904.03 L331.61 902.54 L331.93 903.26 L332.25 901.41 L332.55 901.83 L332.85 905.82 L333.15 908.77 L333.45 909.54 L333.75 913.35 L334.06 912.49 L334.37 909.4 L334.68 911.43 L334.98 909.82 L335.29 906.5 L335.6 906.57 L335.92 908.34 L336.23 911.25 L336.55 910.24 L336.87 913.97 L337.18 916.52 L337.5 918.28 L337.81 917.12 L338.12 916.99 L338.44 915.53 L338.75 913.41 L339.06 910.44 L339.38 911.17 L339.69 910.81 L340 909.1 L340.31 909.84 L340.62 911.65 L340.93 908.58 L341.24 911.69 L341.55 909.87 L341.86 913.48 L342.17 917.06 L342.48 920.67 L342.79 919.74 L343.1 921.18 L343.42 918.89 L343.73 913.86 L344.05 914.7 L344.37 913.23 L344.68 911.78 L345 908.79 L345.31 908.47 L345.62 908.01 L345.94 909.01 L346.25 907.65 L346.56 911.03 L346.88 906.72 L347.19 904.3 L347.5 902.93 L347.82 903.3 L348.13 907.61 L348.45 909.37 L348.77 908.36 L349.08 910.65 L349.4 914.11 L349.71 910.52 L350.02 910.54 L350.32 909.58 L350.63 912.34 L350.94 910.57 L351.25 908.11 L351.56 908.01 L351.88 911.91 L352.19 910.99 L352.5 914.89 L352.81 911.86 L353.12 912.76 L353.44 913.6 L353.75 913.84 L354.06 912.1 L354.37 911.47 L354.68 908.19 L354.98 904.42 L355.29 905.44 L355.6 905.08 L355.92 904.33 L356.23 906.1 L356.55 903.63 L356.87 908.26 L357.18 907.93 L357.5 909.6 L357.81 914.19 L358.12 911.93 L358.44 912.94 L358.75 912.2 L359.06 911.04 L359.38 911.75 L359.69 914.45 L360 913.87 L360.31 913.51 L360.62 914.81 L360.94 913.81 L361.25 911.28 L361.56 913.61 L361.88 912.43 L362.19 913.28 L362.5 909.82 L362.82 910.5 L363.13 905.59 L363.45 901.63 L363.77 900.59 L364.08 899.21 L364.4 898.48 L364.7 883.08 L365 870.15 L365.3 857.92 L365.6 840.24 L365.92 839.01 L366.23 841.53 L366.55 846.41 L366.87 849.75 L367.18 849.86 L367.5 849.51 L367.82 847.63 L368.13 847.43 L368.45 842.23 L368.77 842.77 L369.08 839.2 L369.4 836.15 L369.71 837.6 L370.02 844.62 L370.32 846.99 L370.63 846.7 L370.94 853.28 L371.25 855.82 L371.53 867.34 L371.82 875.92 L372.1 883.46 L372.43 879.51 L372.76 874.14 L373.09 868.58 L373.41 865.12 L373.74 862.77 L374.07 857.87 L374.4 852.86 L374.7 856.96 L375 863.89 L375.3 869.41 L375.6 876.03 L375.91 874.23 L376.23 875.86 L376.54 869.16 L376.85 867.92 L377.16 867.71 L377.48 867.6 L377.79 862.18 L378.1 859.34 L378.42 864.25 L378.73 870.41 L379.05 875.18 L379.37 874.58 L379.68 878.84 L380 884.36 L380.32 886.04 L380.63 886.45 L380.95 888.42 L381.27 889.74 L381.58 895.46 L381.9 897.42 L382.21 898.57 L382.52 899.36 L382.82 901.62 L383.13 902.5 L383.44 903.68 L383.75 906.42 L384.06 907.63 L384.37 909.67 L384.68 910.72 L384.98 913.18 L385.29 913.13 L385.6 914.01 L385.91 912.61 L386.23 909.78 L386.54 910.53 L386.85 907.77 L387.16 904.28 L387.48 905.88 L387.79 905.17 L388.1 902.43 L388.42 905.13 L388.73 907.11 L389.05 908.36 L389.37 906.95 L389.68 908.79 L390 908.61 L390.31 910.37 L390.62 912.26 L390.94 913.74 L391.25 917.31 L391.56 915.1 L391.87 915.36 L392.18 914.23 L392.48 911.94 L392.79 911.27 L393.1 911.04 L393.42 911.36 L393.73 909.12 L394.05 910.41 L394.37 908.99 L394.68 908.81 L395 904.64 L395.31 900.88 L395.62 900.96 L395.94 897.71 L396.25 895.86 L396.56 884.38 L396.88 867.4 L397.19 855.95 L397.5 847.07 L397.81 845.73 L398.12 843 L398.44 842.24 L398.75 840.14 L399.06 842.54 L399.37 845.53 L399.68 844.23 L399.98 845.97 L400.29 846.87 L400.6 848.89 L400.92 850.3 L401.23 847.31 L401.55 851.02 L401.87 852.64 L402.18 849.72 L402.5 850.39 L402.75 856.13 L403 865.41 L403.25 875.23 L403.5 881.72 L403.81 871.43 L404.12 860.98 L404.44 851.01 L404.75 840.76 L405.05 840.24 L405.35 843.71 L405.65 843.85 L405.95 842.71 L406.25 846.23 L406.56 848.56 L406.88 854.81 L407.19 855.62 L407.5 863.3 L407.82 860.43 L408.13 857.47 L408.45 858.18 L408.77 854.5 L409.08 852.64 L409.4 853.86 L409.7 855.73 L410 859.52 L410.3 861.99 L410.6 864.52 L410.93 871.95 L411.25 880.38 L411.56 881.51 L411.87 884.84 L412.18 887.15 L412.48 884.55 L412.79 884.57 L413.1 890.7 L413.43 893.49 L413.75 897.7 L414.07 901.24 L414.4 905.44 L414.71 909.17 L415.02 907.31 L415.34 907.87 L415.65 908.45 L415.96 907.6 L416.27 907.86 L416.59 909.23 L416.9 910.66 L417.21 910.46 L417.52 906.51 L417.84 904.54 L418.15 907.54 L418.46 905.91 L418.77 905.97 L419.09 903.69 L419.4 901.6 L419.71 906.8 L420.02 905.54 L420.34 906.23 L420.65 909.67 L420.96 911.32 L421.27 910.67 L421.59 913.71 L421.9 916.92 L422.21 913.71 L422.52 913.07 L422.84 914.26 L423.15 916.05 L423.46 910.59 L423.77 909.77 L424.09 909.97 L424.4 908.36 L424.71 907.18 L425.02 906.76 L425.34 907.59 L425.65 905.39 L425.96 906.63 L426.27 906.8 L426.59 906.52 L426.9 906.96 L427.21 894.84 L427.52 884.58 L427.82 876.41 L428.13 868.08 L428.44 858.53 L428.75 845.97 L429.06 843.87 L429.38 840.69 L429.69 840.71 L430 839.39 L430.32 838.59 L430.63 837.75 L430.95 839.37 L431.27 839.57 L431.58 836.95 L431.9 832.52 L432.2 837.01 L432.5 842.13 L432.8 847.38 L433.1 850.38 L433.43 857.29 L433.76 860.8 L434.09 868.06 L434.42 874.79 L434.75 879.23 L435.06 873.9 L435.36 872.9 L435.67 866.4 L435.97 864.42 L436.28 859.67 L436.58 855.22 L436.89 851.27 L437.19 846.97 L437.5 843.77 L437.81 854.29 L438.12 861.93 L438.44 865.78 L438.75 872.01 L439.05 868.66 L439.35 862.4 L439.65 861.7 L439.95 855.69 L440.25 851.87 L440.58 852.87 L440.91 855.15 L441.24 858.65 L441.57 863.18 L441.9 870.6 L442.21 872.09 L442.52 876.1 L442.82 876.97 L443.13 877.65 L443.44 881.04 L443.75 882.95 L444.06 882.62 L444.37 886.13 L444.68 890.58 L444.98 891.59 L445.29 891.55 L445.6 893.15 L445.92 894.25 L446.23 897.14 L446.55 898.54 L446.87 901.35 L447.18 904.09 L447.5 908.02 L447.81 903.22 L448.12 898.39 L448.44 899.98 L448.75 897.93 L449.06 894.57 L449.38 893.03 L449.69 888.88 L450 886.54 L450.32 889.38 L450.63 889.88 L450.95 891.45 L451.27 893.31 L451.58 894.39 L451.9 895.01 L452.21 897.26 L452.52 900.26 L452.82 902.39 L453.13 901.16 L453.44 903.57 L453.75 901.77 L454.06 899.78 L454.37 900.82 L454.68 901 L454.98 901.74 L455.29 897.23 L455.6 898.44 L455.92 895.77 L456.23 893.81 L456.55 893.45 L456.87 894.02 L457.18 889.99 L457.5 886.03 L457.8 890.29 L458.1 895.02 L458.4 901.11 L458.7 904.86 L459 907.69 L459.32 892.63 L459.64 877.96 L459.96 866.13 L460.28 847.78 L460.6 833.41 L460.93 832.94 L461.25 837.19 L461.56 840.82 L461.88 842.76 L462.19 848.67 L462.5 855.97 L462.81 854.27 L463.12 847.71 L463.44 845.98 L463.75 847.24 L464.06 848.02 L464.37 852.55 L464.68 859.28 L464.98 867.23 L465.29 871.58 L465.6 878.28 L465.93 876.1 L466.25 874.76 L466.57 870.28 L466.9 865.06 L467.21 859.05 L467.52 858.18 L467.82 857.14 L468.13 853.41 L468.44 844.89 L468.75 837.99 L469.06 846.09 L469.38 851.94 L469.69 856.21 L470 863.87 L470.32 860.37 L470.63 857.97 L470.95 855.85 L471.27 852.49 L471.58 848.88 L471.9 845.9 L472.21 846.94 L472.52 847.73 L472.82 849.34 L473.13 854.3 L473.44 854.74 L473.75 858.15 L474.06 866.99 L474.38 874.68 L474.69 874.9 L475 882.26 L475.32 887.11 L475.63 888.82 L475.95 890.86 L476.27 892.42 L476.58 895.9 L476.9 900.16 L477.21 899.19 L477.52 901.87 L477.84 902.6 L478.15 904.71 L478.46 904.77 L478.77 906.98 L479.09 908.74 L479.4 908.97 L479.71 905.65 L480.02 904.8 L480.32 902.47 L480.63 897.86 L480.94 895.84 L481.25 891 L481.56 894.77 L481.88 895.2 L482.19 900.58 L482.5 906.89 L482.82 906.11 L483.13 907.03 L483.45 905.55 L483.77 905.93 L484.08 905.28 L484.4 903.59 L484.7 910.37 L485 911.22 L485.3 912.5 L485.6 916.76 L485.92 915.11 L486.23 912.74 L486.55 909.57 L486.87 907.44 L487.18 905.67 L487.5 903 L487.82 899.58 L488.13 901.91 L488.45 900.31 L488.77 896.33 L489.08 898.12 L489.4 897.31 L489.7 887.87 L490 881.11 L490.3 868.34 L490.6 856.7 L490.92 851.37 L491.23 849.23 L491.55 847.32 L491.87 843.93 L492.18 839.87 L492.5 830.83 L492.82 832.39 L493.13 834.42 L493.45 831.3 L493.77 829.11 L494.08 826.37 L494.4 827.24 L494.71 827.44 L495.02 836.93 L495.32 838.57 L495.63 840.12 L495.94 841.19 L496.25 847.14 L496.56 855.28 L496.88 859.22 L497.19 865.59 L497.5 871.94 L497.81 869.51 L498.12 865.72 L498.44 863.13 L498.75 854.6 L499.06 856.65 L499.38 849.24 L499.69 842.21 L500 837.11 L500.32 842.77 L500.63 848.07 L500.95 855.83 L501.27 858.8 L501.58 857.9 L501.9 859.97 L502.21 857.59 L502.52 855.38 L502.83 854.37 L503.14 852.21 L503.45 854.06 L503.76 852.51 L504.07 851.6 L504.38 848.75 L504.69 844.42 L505 844.94 L505.31 852.01 L505.62 864.14 L505.94 872.49 L506.25 876.21 L506.56 878.03 L506.88 881.43 L507.19 885.4 L507.5 891.2 L507.82 892.02 L508.13 894.22 L508.45 895 L508.77 896.38 L509.08 899.96 L509.4 900.86 L509.71 902.59 L510.02 900.32 L510.33 899.49 L510.64 898.78 L510.95 898.5 L511.26 899.88 L511.57 896.47 L511.88 894.67 L512.19 892.85 L512.5 895.7 L512.81 897.46 L513.12 899.33 L513.44 901.27 L513.75 900.03 L514.06 904.09 L514.38 906.23 L514.69 908.58 L515 910.45 L515.32 911.59 L515.63 912.9 L515.95 913.6 L516.27 915.16 L516.58 917.86 L516.9 916.11 L517.21 917.15 L517.52 916.69 L517.83 913.34 L518.13 913.14 L518.44 912.03 L518.75 909.58 L519.06 910.46 L519.38 907.93 L519.69 905.37 L520 901.59 L520.31 903.71 L520.62 901.17 L520.94 899.18 L521.25 896.56 L521.56 899.03 L521.87 896.82 L522.17 898.04 L522.48 897.69 L522.79 897.2 L523.1 896.24 L523.41 896.86 L523.73 895.35 L524.05 891.76 L524.36 889.12 L524.67 893.49 L524.99 891.05 L525.31 894.9 L525.62 899.47 L525.93 894.49 L526.25 895.73 L526.56 897.13 L526.87 896.63 L527.17 895.1 L527.48 897.55 L527.79 901.79 L528.1 901.92 L528.42 904.41 L528.75 907.2 L529.08 909.93 L529.4 913.06 L529.71 917.05 L530.02 915.14 L530.33 913.38 L530.63 916.75 L530.94 917.05 L531.25 917.74 L531.56 915.23 L531.88 915.13 L532.19 914.17 L532.5 914.35 L532.81 912.74 L533.12 909.91 L533.44 910.67 L533.75 909.7 L534.06 906.61 L534.38 906.92 L534.69 908.3 L535 907.53 L535.31 906.46 L535.62 906.89 L535.94 905.08 L536.25 903.78 L536.56 905.77 L536.88 906.13 L537.19 905.97 L537.5 907.39 L537.81 908.46 L538.12 910.25 L538.44 911.56 L538.75 911.24 L539.06 911.24 L539.38 910.28 L539.69 911.7 L540 911.94 L540.31 914.04 L540.62 915.35 L540.94 916.1 L541.25 915.81 L541.57 914.77 L541.88 915.32 L542.19 915.32 L542.51 911.55 L542.83 905.99 L543.14 907.45 L543.45 904.61 L543.77 904.84 L544.09 904.96 L544.4 905.91 L544.71 906.18 L545.02 907.18 L545.34 907.82 L545.65 910.14 L545.96 909.96 L546.27 913.14 L546.59 915.2 L546.9 918.42 L547.21 916.32 L547.52 915.83 L547.83 915.1 L548.14 914.12 L548.45 912 L548.76 911.19 L549.07 911.32 L549.38 911.69 L549.69 912.32 L550 910.04 L550.32 909.27 L550.63 908.8 L550.95 908.33 L551.27 906.67 L551.58 905.21 L551.9 903.13 L552.21 905.38 L552.52 907.29 L552.83 907.2 L553.13 909.68 L553.44 909.65 L553.75 914.79 L554.06 915.85 L554.38 914.18 L554.69 913.61 L555 912.85 L555.31 911.42 L555.62 912.64 L555.94 910.47 L556.25 909.63 L556.56 911.23 L556.87 915.94 L557.17 914.28 L557.48 917.05 L557.79 917.33 L558.1 919.38 L558.42 916.73 L558.73 916.66 L559.05 912.91 L559.37 909.99 L559.68 908.32 L560 905.48 L560.31 906.71 L560.62 911.69 L560.94 911.84 L561.25 912.5 L561.56 916.65 L561.88 917.71 L562.19 920.45 L562.5 918.78 L562.81 918.24 L563.12 918.66 L563.44 918.11 L563.75 917.9 L564.06 918.38 L564.38 917.32 L564.69 917.11 L565 916.13 L565.31 913.06 L565.62 912.41 L565.93 913.19 L566.24 910.01 L566.55 910.05 L566.86 909.76 L567.17 910.16 L567.48 905.74 L567.79 908.73 L568.1 904.31 L568.42 905.12 L568.73 909.26 L569.05 906.13 L569.37 909.79 L569.68 909.07 L570 911.21 L570.31 912.36 L570.62 911.6 L570.94 910.38 L571.25 910.89 L571.56 910.25 L571.88 910.28 L572.19 913.22 L572.5 912.61 L572.82 913.46 L573.14 912.84 L573.46 912 L573.79 909.86 L574.11 908.07 L574.43 909.57 L574.75 908.75" fill="none" stroke="#0b3c5d" stroke-width="1.9" stroke-linejoin="miter"/>
<rect x="113.4" y="822" width="483.3" height="104.8" fill="none" stroke="#333333" stroke-width="1.2"/>
<path d="M135 926.8V923.8 M135 822V825 M166.33 926.8V923.8 M166.33 822V825 M197.66 926.8V923.8 M197.66 822V825 M228.99 926.8V923.8 M228.99 822V825 M260.32 926.8V923.8 M260.32 822V825 M291.65 926.8V923.8 M291.65 822V825 M322.98 926.8V923.8 M322.98 822V825 M354.31 926.8V923.8 M354.31 822V825 M385.64 926.8V923.8 M385.64 822V825 M416.97 926.8V923.8 M416.97 822V825 M448.3 926.8V923.8 M448.3 822V825 M479.63 926.8V923.8 M479.63 822V825 M510.96 926.8V923.8 M510.96 822V825 M542.29 926.8V923.8 M542.29 822V825 M573.62 926.8V923.8 M573.62 822V825 " stroke="#333333" stroke-width="1"/>
<path d="M113.4 899.7H116.4 M596.7 899.7H593.7 M113.4 863.7H116.4 M596.7 863.7H593.7 M113.4 827.7H116.4 M596.7 827.7H593.7 " stroke="#333333" stroke-width="1"/>
<path d="M113.4 921.3H115.2 M596.7 921.3H594.9 M113.4 914.1H115.2 M596.7 914.1H594.9 M113.4 906.9H115.2 M596.7 906.9H594.9 M113.4 892.5H115.2 M596.7 892.5H594.9 M113.4 885.3H115.2 M596.7 885.3H594.9 M113.4 878.1H115.2 M596.7 878.1H594.9 M113.4 870.9H115.2 M596.7 870.9H594.9 M113.4 856.5H115.2 M596.7 856.5H594.9 M113.4 849.3H115.2 M596.7 849.3H594.9 M113.4 842.1H115.2 M596.7 842.1H594.9 M113.4 834.9H115.2 M596.7 834.9H594.9 " stroke="#333333" stroke-width="0.9"/>
<text x="0" y="0" transform="translate(151.36 940.5) scale(1.0400 1)" font-size="12" text-anchor="middle" fill="#2b2b2b" >Mon</text>
<text x="0" y="0" transform="translate(182.69 940.5) scale(1.0400 1)" font-size="12" text-anchor="middle" fill="#2b2b2b" >Tue</text>
<text x="0" y="0" transform="translate(214.02 940.5) scale(1.0400 1)" font-size="12" text-anchor="middle" fill="#2b2b2b" >Wed</text>
<text x="0" y="0" transform="translate(245.35 940.5) scale(1.0400 1)" font-size="12" text-anchor="middle" fill="#2b2b2b" >Thu</text>
<text x="0" y="0" transform="translate(276.68 940.5) scale(1.0400 1)" font-size="12" text-anchor="middle" fill="#2b2b2b" >Fri</text>
<text x="0" y="0" transform="translate(308.01 940.5) scale(1.0400 1)" font-size="12" text-anchor="middle" fill="#2b2b2b" >Sat</text>
<text x="0" y="0" transform="translate(339.34 940.5) scale(1.0400 1)" font-size="12" text-anchor="middle" fill="#2b2b2b" >Sun</text>
<text x="0" y="0" transform="translate(370.67 940.5) scale(1.0400 1)" font-size="12" text-anchor="middle" fill="#2b2b2b" >Mon</text>
<text x="0" y="0" transform="translate(402 940.5) scale(1.0400 1)" font-size="12" text-anchor="middle" fill="#2b2b2b" >Tue</text>
<text x="0" y="0" transform="translate(433.33 940.5) scale(1.0400 1)" font-size="12" text-anchor="middle" fill="#2b2b2b" >Wed</text>
<text x="0" y="0" transform="translate(464.66 940.5) scale(1.0400 1)" font-size="12" text-anchor="middle" fill="#2b2b2b" >Thu</text>
<text x="0" y="0" transform="translate(495.99 940.5) scale(1.0400 1)" font-size="12" text-anchor="middle" fill="#2b2b2b" >Fri</text>
<text x="0" y="0" transform="translate(527.33 940.5) scale(1.0400 1)" font-size="12" text-anchor="middle" fill="#2b2b2b" >Sat</text>
<text x="0" y="0" transform="translate(558.65 940.5) scale(1.0400 1)" font-size="12" text-anchor="middle" fill="#2b2b2b" >Sun</text>
<text x="0" y="0" transform="translate(109.5 904.5) scale(1.0400 1)" font-size="12" text-anchor="end" fill="#2b2b2b" >50</text>
<text x="0" y="0" transform="translate(109.5 868.5) scale(1.0400 1)" font-size="12" text-anchor="end" fill="#2b2b2b" >100</text>
<text x="0" y="0" transform="translate(109.5 832.5) scale(1.0400 1)" font-size="12" text-anchor="end" fill="#2b2b2b" >150</text>
<text x="0" y="0" font-size="12" text-anchor="middle" fill="#2b2b2b" transform="translate(60.8 874.5) rotate(-90) scale(1.0700 1)" dominant-baseline="central">Power [kW]</text>
<text x="11.3" y="884.7" font-size="17" text-anchor="start" fill="#111" >(g)</text>
<rect x="113.4" y="971.6" width="483.3" height="104.8" fill="#fff"/>
<rect x="273.75" y="971.6" width="18.15" height="104.8" fill="#dae3ea"/>
<rect x="493" y="971.6" width="18.4" height="104.8" fill="#dae3ea"/>
<rect x="292.75" y="971.6" width="23.5" height="104.8" fill="#dfc1d3"/>
<rect x="323.1" y="971.6" width="24" height="104.8" fill="#dfc1d3"/>
<path d="M135 1045.95 L135.32 1048.09 L135.63 1050.4 L135.95 1049.8 L136.27 1048.72 L136.58 1050.32 L136.9 1052.25 L137.21 1054.89 L137.53 1053.55 L137.84 1053.37 L138.15 1056.66 L138.46 1058.57 L138.78 1061.59 L139.09 1062.92 L139.4 1062.66 L139.71 1060.54 L140.02 1062.9 L140.32 1059.49 L140.63 1056.52 L140.94 1053.97 L141.25 1053.84 L141.56 1055.05 L141.88 1055.28 L142.19 1056.1 L142.5 1057.3 L142.82 1057.33 L143.13 1057.5 L143.45 1055.93 L143.77 1051.93 L144.08 1052.99 L144.4 1050.14 L144.68 1052.55 L144.97 1052.76 L145.25 1055.77 L145.5 1043.63 L145.75 1033.21 L146 1027.71 L146.3 1019.4 L146.6 1014.26 L146.9 1004.68 L147.2 1003.12 L147.5 1003.5 L147.8 1001.36 L148.1 1000.48 L148.43 1010.24 L148.75 1018.09 L149 1014.6 L149.25 1007.53 L149.5 1006.77 L149.75 998.83 L150.03 1005.41 L150.32 1010.01 L150.6 1016.81 L150.88 1017.09 L151.15 1021.41 L151.43 1022.79 L151.7 1027.15 L151.97 1029.45 L152.25 1031.01 L152.55 1024.45 L152.85 1021.66 L153.15 1017.5 L153.45 1015.47 L153.75 1008.29 L154 1006.79 L154.25 1004.95 L154.5 1002.56 L154.75 1000.21 L155.05 1002.1 L155.35 1002.51 L155.65 1002.94 L155.95 1005.48 L156.25 1009.76 L156.56 1012.85 L156.87 1013.44 L157.18 1013.99 L157.48 1013.83 L157.79 1013.7 L158.1 1012.74 L158.43 1015.46 L158.75 1019.77 L159.07 1019.08 L159.4 1019.17 L159.7 1027.82 L160 1031.62 L160.3 1037.17 L160.6 1042.23 L160.92 1040.44 L161.23 1045.56 L161.55 1047.72 L161.87 1047.04 L162.18 1048.17 L162.5 1048.44 L162.82 1047.77 L163.13 1049.15 L163.45 1051.15 L163.77 1053.81 L164.08 1055.2 L164.4 1055.61 L164.71 1055.75 L165.02 1052.24 L165.32 1052.03 L165.63 1051.75 L165.94 1049.01 L166.25 1044.86 L166.56 1046.89 L166.88 1050.61 L167.19 1053.97 L167.5 1058.17 L167.81 1053.42 L168.12 1051.36 L168.44 1050.14 L168.75 1047.3 L169.06 1045.95 L169.37 1050.78 L169.68 1056.34 L169.98 1058.34 L170.29 1057.68 L170.6 1059.11 L170.92 1058.62 L171.23 1061.03 L171.55 1059.1 L171.87 1056.9 L172.18 1057.31 L172.5 1054.69 L172.81 1055.85 L173.12 1052.47 L173.44 1050.68 L173.75 1051.07 L174.06 1051.86 L174.38 1050.8 L174.69 1049.38 L175 1045.23 L175.3 1043.12 L175.6 1041.2 L175.9 1039.34 L176.2 1039.13 L176.5 1036.59 L176.75 1027.58 L177 1016.55 L177.25 1004.9 L177.5 994.7 L177.81 994.34 L178.12 994.49 L178.44 990.98 L178.75 989.14 L179.06 983.82 L179.38 986.55 L179.69 986.33 L180 981.31 L180.31 982.51 L180.62 982.97 L180.94 987.92 L181.25 992.03 L181.56 997.18 L181.88 995.65 L182.19 992.79 L182.5 987.88 L182.81 1002.58 L183.12 1011.93 L183.44 1017.86 L183.75 1028.56 L184.06 1018.39 L184.38 1018.88 L184.69 1010.86 L185 1001.91 L185.31 1003.21 L185.62 1001.61 L185.94 1006.61 L186.25 1008.08 L186.56 1008.14 L186.88 1001.13 L187.19 998.5 L187.5 1000.05 L187.82 1003.89 L188.13 1000.22 L188.45 997.98 L188.77 1002.17 L189.08 1004.51 L189.4 1002.22 L189.71 1003.68 L190.02 1005.58 L190.32 1006.73 L190.63 1009.46 L190.94 1015.64 L191.25 1018.8 L191.56 1025 L191.87 1025.9 L192.18 1027.93 L192.48 1029.21 L192.79 1032.95 L193.1 1034.63 L193.42 1034.77 L193.73 1039.5 L194.05 1043.8 L194.37 1045.86 L194.68 1048.42 L195 1048.96 L195.31 1049.52 L195.62 1052.18 L195.94 1054.12 L196.25 1055.3 L196.56 1052.58 L196.87 1050.89 L197.18 1051.49 L197.48 1051.38 L197.79 1049.83 L198.1 1051.09 L198.42 1050.76 L198.73 1051.25 L199.05 1052.46 L199.37 1050.3 L199.68 1047.69 L200 1050.28 L200.31 1051.23 L200.62 1055.37 L200.94 1056.96 L201.25 1059.56 L201.56 1061.4 L201.88 1059.21 L202.19 1062.91 L202.5 1063.69 L202.81 1061.68 L203.12 1060.42 L203.44 1060.77 L203.75 1060.41 L204.06 1059.7 L204.38 1054.91 L204.69 1053.3 L205 1049.3 L205.31 1050.4 L205.62 1051.54 L205.94 1049.81 L206.25 1049.97 L206.56 1049.64 L206.88 1050.19 L207.19 1047.47 L207.5 1045.71 L207.8 1050.33 L208.1 1058.67 L208.43 1021.75 L208.75 981.96 L209.06 981.19 L209.37 980.19 L209.68 979.52 L209.98 977.91 L210.29 976.45 L210.6 973.3 L210.93 976.42 L211.25 984.6 L211.57 987.68 L211.9 989.64 L212.2 987.58 L212.5 986.7 L212.8 986.44 L213.1 983.6 L213.42 991.41 L213.73 998.83 L214.05 1003.95 L214.37 1009.94 L214.68 1016.07 L215 1022.56 L215.31 1014.79 L215.62 998.87 L215.94 989.6 L216.25 978.64 L216.56 980.45 L216.87 983.84 L217.18 988.73 L217.48 989.7 L217.79 990.59 L218.1 990.88 L218.43 995.59 L218.75 1002.31 L219.07 1005.16 L219.4 1007.32 L219.71 1005.35 L220.02 1004.35 L220.32 1002.96 L220.63 1006.91 L220.94 1007.09 L221.25 1005.68 L221.56 1010.54 L221.88 1009.72 L222.19 1012.99 L222.5 1015.64 L222.82 1013.25 L223.13 1012.9 L223.45 1014.75 L223.77 1019.86 L224.08 1023.93 L224.4 1022.3 L224.71 1027.35 L225.02 1028.76 L225.32 1030.82 L225.63 1032.97 L225.94 1035.77 L226.25 1036.24 L226.56 1038.28 L226.87 1039.91 L227.18 1044.22 L227.48 1049.6 L227.79 1054.07 L228.1 1052.93 L228.43 1051.35 L228.75 1053.34 L229.07 1054.53 L229.4 1060.16 L229.7 1056.93 L230 1051.93 L230.3 1050.21 L230.6 1047.25 L230.92 1045.25 L231.23 1046.36 L231.55 1047.85 L231.87 1049.48 L232.18 1050.98 L232.5 1051.58 L232.82 1053.57 L233.13 1054.2 L233.45 1054.81 L233.77 1059.22 L234.08 1060.54 L234.4 1062.04 L234.71 1058.17 L235.02 1057.71 L235.32 1058.35 L235.63 1055.19 L235.94 1056.43 L236.25 1054.45 L236.56 1054.05 L236.87 1052.57 L237.18 1051.81 L237.48 1052.29 L237.79 1049.75 L238.1 1050.75 L238.43 1050.33 L238.75 1050.85 L239.07 1054.34 L239.4 1054.54 L239.68 1033.35 L239.97 1014.46 L240.25 995.32 L240.57 989.07 L240.89 990.64 L241.21 994.15 L241.54 994.02 L241.86 990.38 L242.18 987.39 L242.5 986.23 L242.82 985.96 L243.13 988.75 L243.45 991.26 L243.77 993.55 L244.08 998.49 L244.4 998.87 L244.71 1000.62 L245.02 1009.07 L245.32 1011.66 L245.63 1016.68 L245.94 1022.28 L246.25 1027.23 L246.56 1020.49 L246.87 1015.67 L247.18 1015.17 L247.48 1006.73 L247.79 1000.68 L248.1 997.61 L248.42 1002.45 L248.73 1007.1 L249.05 1011.82 L249.37 1010.96 L249.68 1014.93 L250 1020.99 L250.32 1019.95 L250.63 1019.68 L250.95 1016.78 L251.27 1012.73 L251.58 1009.99 L251.9 1006.87 L252.21 1008.1 L252.52 1009.87 L252.82 1009.07 L253.13 1008.05 L253.44 1007.78 L253.75 1011.76 L254.06 1016.86 L254.37 1020.38 L254.68 1023.42 L254.98 1026.42 L255.29 1028.01 L255.6 1031.48 L255.92 1031.31 L256.23 1033.88 L256.55 1035.58 L256.87 1039.96 L257.18 1041.41 L257.5 1044.09 L257.81 1048.04 L258.12 1052.91 L258.44 1053.89 L258.75 1055.75 L259.06 1056.63 L259.38 1053.91 L259.69 1054.26 L260 1052.54 L260.31 1051.86 L260.62 1048.65 L260.94 1050.12 L261.25 1048.69 L261.56 1048.72 L261.87 1053.32 L262.18 1054.12 L262.48 1058.86 L262.79 1057.3 L263.1 1055.88 L263.42 1057.27 L263.73 1060.99 L264.05 1061.51 L264.37 1063.37 L264.68 1065.34 L265 1065.26 L265.31 1064.64 L265.62 1062.9 L265.94 1060.44 L266.25 1061.63 L266.56 1061.39 L266.88 1059.9 L267.19 1057.23 L267.5 1053.81 L267.81 1055.04 L268.12 1054.29 L268.44 1051.15 L268.75 1051.31 L269.06 1048.79 L269.38 1049.08 L269.69 1048.92 L270 1048.59 L270.31 1032.26 L270.62 1015.79 L270.94 996.53 L271.25 980.18 L271.56 979.48 L271.87 979.49 L272.18 980.36 L272.48 981.33 L272.79 983.83 L273.1 975.4 L273.43 982.94 L273.75 987.78 L274.07 998.04 L274.4 998.35" fill="none" stroke="#0b3c5d" stroke-width="1.9" stroke-linejoin="miter"/>
<path d="M316 1050.08 L316.3 1052.91 L316.6 1054.37 L316.9 1055.56 L317.2 1058.93 L317.5 1060.11 L317.82 1058.85 L318.13 1060.81 L318.45 1058.26 L318.77 1055.6 L319.08 1053.8 L319.4 1053.78 L319.71 1056.49 L320.02 1058.49 L320.33 1060.26 L320.64 1062.52 L320.95 1063.85 L321.26 1063.41 L321.57 1064.53 L321.88 1064.53 L322.19 1063.2 L322.5 1064.87 L322.82 1062.38 L323.13 1059.83 L323.45 1060.72 L323.77 1058.51 L324.08 1054.69 L324.4 1052.42 L324.71 1056.89 L325.02 1056.1 L325.32 1057.72 L325.63 1058.99 L325.94 1060.09 L326.25 1061.38 L326.56 1062.07 L326.88 1063.54 L327.19 1065.8 L327.5 1067.74 L327.81 1067.86 L328.12 1068.26 L328.44 1064.31 L328.75 1063.67 L329.06 1060.48 L329.38 1058.59 L329.69 1057.58 L330 1056.87 L330.32 1055.64 L330.64 1051.55 L330.96 1054.77 L331.29 1053.63 L331.61 1052.14 L331.93 1052.86 L332.25 1051.01 L332.55 1051.43 L332.85 1055.42 L333.15 1058.37 L333.45 1059.14 L333.75 1062.95 L334.06 1062.09 L334.37 1059 L334.68 1061.03 L334.98 1059.42 L335.29 1056.1 L335.6 1056.17 L335.92 1057.94 L336.23 1060.85 L336.55 1059.84 L336.87 1063.57 L337.18 1066.12 L337.5 1067.88 L337.81 1066.72 L338.12 1066.59 L338.44 1065.13 L338.75 1063.01 L339.06 1060.04 L339.38 1060.77 L339.69 1060.41 L340 1058.7 L340.31 1059.44 L340.62 1061.25 L340.93 1058.18 L341.24 1061.29 L341.55 1059.47 L341.86 1063.08 L342.17 1066.66 L342.48 1070.27 L342.79 1069.34 L343.1 1070.78 L343.42 1068.49 L343.73 1063.46 L344.05 1064.3 L344.37 1062.83 L344.68 1061.38 L345 1058.39 L345.31 1058.07 L345.62 1057.61 L345.94 1058.61 L346.25 1057.25 L346.56 1060.63 L346.88 1056.32 L347.19 1053.9 L347.5 1052.53 L347.82 1052.9 L348.13 1057.21 L348.45 1058.97 L348.77 1057.96 L349.08 1060.25 L349.4 1063.71 L349.71 1060.12 L350.02 1060.14 L350.32 1059.18 L350.63 1061.94 L350.94 1060.17 L351.25 1057.71 L351.56 1057.61 L351.88 1061.51 L352.19 1060.59 L352.5 1064.49 L352.81 1061.46 L353.12 1062.36 L353.44 1063.2 L353.75 1063.44 L354.06 1061.7 L354.37 1061.07 L354.68 1057.79 L354.98 1054.02 L355.29 1055.04 L355.6 1054.68 L355.92 1053.93 L356.23 1055.7 L356.55 1053.23 L356.87 1057.86 L357.18 1057.53 L357.5 1059.2 L357.81 1063.79 L358.12 1061.53 L358.44 1062.54 L358.75 1061.8 L359.06 1060.64 L359.38 1061.35 L359.69 1064.05 L360 1063.47 L360.31 1063.11 L360.62 1064.41 L360.94 1063.41 L361.25 1060.88 L361.56 1063.21 L361.88 1062.03 L362.19 1062.88 L362.5 1059.42 L362.82 1060.1 L363.13 1055.19 L363.45 1051.23 L363.77 1050.19 L364.08 1048.81 L364.4 1048.08 L364.7 1032.68 L365 1019.75 L365.3 1007.52 L365.6 989.84 L365.92 988.61 L366.23 991.13 L366.55 996.01 L366.87 999.35 L367.18 999.46 L367.5 999.11 L367.82 997.23 L368.13 997.03 L368.45 991.83 L368.77 992.37 L369.08 988.8 L369.4 985.75 L369.71 987.2 L370.02 994.22 L370.32 996.59 L370.63 996.3 L370.94 1002.88 L371.25 1005.42 L371.53 1016.94 L371.82 1025.52 L372.1 1033.06 L372.43 1029.11 L372.76 1023.74 L373.09 1018.18 L373.41 1014.72 L373.74 1012.37 L374.07 1007.47 L374.4 1002.46 L374.7 1006.56 L375 1013.49 L375.3 1019.01 L375.6 1025.63 L375.91 1023.83 L376.23 1025.46 L376.54 1018.76 L376.85 1017.52 L377.16 1017.31 L377.48 1017.2 L377.79 1011.78 L378.1 1008.94 L378.42 1013.85 L378.73 1020.01 L379.05 1024.78 L379.37 1024.18 L379.68 1028.44 L380 1033.96 L380.32 1035.64 L380.63 1036.05 L380.95 1038.02 L381.27 1039.34 L381.58 1045.06 L381.9 1047.02 L382.21 1048.17 L382.52 1048.96 L382.82 1051.22 L383.13 1052.1 L383.44 1053.28 L383.75 1056.02 L384.06 1057.23 L384.37 1059.27 L384.68 1060.32 L384.98 1062.78 L385.29 1062.73 L385.6 1063.61 L385.91 1062.21 L386.23 1059.38 L386.54 1060.13 L386.85 1057.37 L387.16 1053.88 L387.48 1055.48 L387.79 1054.77 L388.1 1052.03 L388.42 1054.73 L388.73 1056.71 L389.05 1057.96 L389.37 1056.55 L389.68 1058.39 L390 1058.21 L390.31 1059.97 L390.62 1061.86 L390.94 1063.34 L391.25 1066.91 L391.56 1064.7 L391.87 1064.96 L392.18 1063.83 L392.48 1061.54 L392.79 1060.87 L393.1 1060.64 L393.42 1060.96 L393.73 1058.72 L394.05 1060.01 L394.37 1058.59 L394.68 1058.41 L395 1054.24 L395.31 1050.48 L395.62 1050.56 L395.94 1047.31 L396.25 1045.46 L396.56 1033.98 L396.88 1017 L397.19 1005.55 L397.5 996.67 L397.81 995.33 L398.12 992.6 L398.44 991.84 L398.75 989.74 L399.06 992.14 L399.37 995.13 L399.68 993.83 L399.98 995.57 L400.29 996.47 L400.6 998.49 L400.92 999.9 L401.23 996.91 L401.55 1000.62 L401.87 1002.24 L402.18 999.32 L402.5 999.99 L402.75 1005.73 L403 1015.01 L403.25 1024.83 L403.5 1031.32 L403.81 1021.03 L404.12 1010.58 L404.44 1000.61 L404.75 990.36 L405.05 989.84 L405.35 993.31 L405.65 993.45 L405.95 992.31 L406.25 995.83 L406.56 998.16 L406.88 1004.41 L407.19 1005.22 L407.5 1012.9 L407.82 1010.03 L408.13 1007.07 L408.45 1007.78 L408.77 1004.1 L409.08 1002.24 L409.4 1003.46 L409.7 1005.33 L410 1009.12 L410.3 1011.59 L410.6 1014.12 L410.93 1021.55 L411.25 1029.98 L411.56 1031.11 L411.87 1034.44 L412.18 1036.75 L412.48 1034.15 L412.79 1034.17 L413.1 1040.3 L413.43 1043.09 L413.75 1047.3 L414.07 1050.84 L414.4 1055.04 L414.71 1058.77 L415.02 1056.91 L415.34 1057.47 L415.65 1058.05 L415.96 1057.2 L416.27 1057.46 L416.59 1058.83 L416.9 1060.26 L417.21 1060.06 L417.52 1056.11 L417.84 1054.14 L418.15 1057.14 L418.46 1055.51 L418.77 1055.57 L419.09 1053.29 L419.4 1051.2 L419.71 1056.4 L420.02 1055.14 L420.34 1055.83 L420.65 1059.27 L420.96 1060.92 L421.27 1060.27 L421.59 1063.31 L421.9 1066.52 L422.21 1063.31 L422.52 1062.67 L422.84 1063.86 L423.15 1065.65 L423.46 1060.19 L423.77 1059.37 L424.09 1059.57 L424.4 1057.96 L424.71 1056.78 L425.02 1056.36 L425.34 1057.19 L425.65 1054.99 L425.96 1056.23 L426.27 1056.4 L426.59 1056.12 L426.9 1056.56 L427.21 1044.44 L427.52 1034.18 L427.82 1026.01 L428.13 1017.68 L428.44 1008.13 L428.75 995.57 L429.06 993.47 L429.38 990.29 L429.69 990.31 L430 988.99 L430.32 988.19 L430.63 987.35 L430.95 988.97 L431.27 989.17 L431.58 986.55 L431.9 982.12 L432.2 986.61 L432.5 991.73 L432.8 996.98 L433.1 999.98 L433.43 1006.89 L433.76 1010.4 L434.09 1017.66 L434.42 1024.39 L434.75 1028.83 L435.06 1023.5 L435.36 1022.5 L435.67 1016 L435.97 1014.02 L436.28 1009.27 L436.58 1004.82 L436.89 1000.87 L437.19 996.57 L437.5 993.37 L437.81 1003.89 L438.12 1011.53 L438.44 1015.38 L438.75 1021.61 L439.05 1018.26 L439.35 1012 L439.65 1011.3 L439.95 1005.29 L440.25 1001.47 L440.58 1002.47 L440.91 1004.75 L441.24 1008.25 L441.57 1012.78 L441.9 1020.2 L442.21 1021.69 L442.52 1025.7 L442.82 1026.57 L443.13 1027.25 L443.44 1030.64 L443.75 1032.55 L444.06 1032.22 L444.37 1035.73 L444.68 1040.18 L444.98 1041.19 L445.29 1041.15 L445.6 1042.75 L445.92 1043.85 L446.23 1046.74 L446.55 1048.14 L446.87 1050.95 L447.18 1053.69 L447.5 1057.62 L447.81 1052.82 L448.12 1047.99 L448.44 1049.58 L448.75 1047.53 L449.06 1044.17 L449.38 1042.63 L449.69 1038.48 L450 1036.14 L450.32 1038.98 L450.63 1039.48 L450.95 1041.05 L451.27 1042.91 L451.58 1043.99 L451.9 1044.61 L452.21 1046.86 L452.52 1049.86 L452.82 1051.99 L453.13 1050.76 L453.44 1053.17 L453.75 1051.37 L454.06 1049.38 L454.37 1050.42 L454.68 1050.6 L454.98 1051.34 L455.29 1046.83 L455.6 1048.04 L455.92 1045.37 L456.23 1043.41 L456.55 1043.05 L456.87 1043.62 L457.18 1039.59 L457.5 1035.63 L457.8 1039.89 L458.1 1044.62 L458.4 1050.71 L458.7 1054.46 L459 1057.29 L459.32 1042.23 L459.64 1027.56 L459.96 1015.73 L460.28 997.38 L460.6 983.01 L460.93 982.54 L461.25 986.79 L461.56 990.42 L461.88 992.36 L462.19 998.27 L462.5 1005.57 L462.81 1003.87 L463.12 997.31 L463.44 995.58 L463.75 996.84 L464.06 997.62 L464.37 1002.15 L464.68 1008.88 L464.98 1016.83 L465.29 1021.18 L465.6 1027.88 L465.93 1025.7 L466.25 1024.36 L466.57 1019.88 L466.9 1014.66 L467.21 1008.65 L467.52 1007.78 L467.82 1006.74 L468.13 1003.01 L468.44 994.49 L468.75 987.59 L469.06 995.69 L469.38 1001.54 L469.69 1005.81 L470 1013.47 L470.32 1009.97 L470.63 1007.57 L470.95 1005.45 L471.27 1002.09 L471.58 998.48 L471.9 995.5 L472.21 996.54 L472.52 997.33 L472.82 998.94 L473.13 1003.9 L473.44 1004.34 L473.75 1007.75 L474.06 1016.59 L474.38 1024.28 L474.69 1024.5 L475 1031.86 L475.32 1036.71 L475.63 1038.42 L475.95 1040.46 L476.27 1042.02 L476.58 1045.5 L476.9 1049.76 L477.21 1048.79 L477.52 1051.47 L477.84 1052.2 L478.15 1054.31 L478.46 1054.37 L478.77 1056.58 L479.09 1058.34 L479.4 1058.57 L479.71 1055.25 L480.02 1054.4 L480.32 1052.07 L480.63 1047.46 L480.94 1045.44 L481.25 1040.6 L481.56 1044.37 L481.88 1044.8 L482.19 1050.18 L482.5 1056.49 L482.82 1055.71 L483.13 1056.63 L483.45 1055.15 L483.77 1055.53 L484.08 1054.88 L484.4 1053.19 L484.7 1059.97 L485 1060.82 L485.3 1062.1 L485.6 1066.36 L485.92 1064.71 L486.23 1062.34 L486.55 1059.17 L486.87 1057.04 L487.18 1055.27 L487.5 1052.6 L487.82 1049.18 L488.13 1051.51 L488.45 1049.91 L488.77 1045.93 L489.08 1047.72 L489.4 1046.91 L489.7 1037.47 L490 1030.71 L490.3 1017.94 L490.6 1006.3 L490.92 1000.97 L491.23 998.83 L491.55 996.92 L491.87 993.53 L492.18 989.47 L492.5 980.43 L492.82 981.99 L493.13 984.02 L493.45 980.9 L493.77 978.71 L494.08 975.97 L494.4 976.84 L494.71 977.04 L495.02 986.53 L495.32 988.17 L495.63 989.72 L495.94 990.79 L496.25 996.74 L496.56 1004.88 L496.88 1008.82 L497.19 1015.19 L497.5 1021.54 L497.81 1019.11 L498.12 1015.32 L498.44 1012.73 L498.75 1004.2 L499.06 1006.25 L499.38 998.84 L499.69 991.81 L500 986.71 L500.32 992.37 L500.63 997.67 L500.95 1005.43 L501.27 1008.4 L501.58 1007.5 L501.9 1009.57 L502.21 1007.19 L502.52 1004.98 L502.83 1003.97 L503.14 1001.81 L503.45 1003.66 L503.76 1002.11 L504.07 1001.2 L504.38 998.35 L504.69 994.02 L505 994.54 L505.31 1001.61 L505.62 1013.74 L505.94 1022.09 L506.25 1025.81 L506.56 1027.63 L506.88 1031.03 L507.19 1035 L507.5 1040.8 L507.82 1041.62 L508.13 1043.82 L508.45 1044.6 L508.77 1045.98 L509.08 1049.56 L509.4 1050.46 L509.71 1052.19 L510.02 1049.92 L510.33 1049.09 L510.64 1048.38 L510.95 1048.1 L511.26 1049.48 L511.57 1046.07 L511.88 1044.27 L512.19 1042.45 L512.5 1045.3 L512.81 1047.06 L513.12 1048.93 L513.44 1050.87 L513.75 1049.63 L514.06 1053.69 L514.38 1055.83 L514.69 1058.18 L515 1060.05 L515.32 1061.19 L515.63 1062.5 L515.95 1063.2 L516.27 1064.76 L516.58 1067.46 L516.9 1065.71 L517.21 1066.75 L517.52 1066.29 L517.83 1062.94 L518.13 1062.74 L518.44 1061.63 L518.75 1059.18 L519.06 1060.06 L519.38 1057.53 L519.69 1054.97 L520 1051.19 L520.31 1053.31 L520.62 1050.77 L520.94 1048.78 L521.25 1046.16 L521.56 1048.63 L521.87 1046.42 L522.17 1047.64 L522.48 1047.29 L522.79 1046.8 L523.1 1045.84 L523.41 1046.46 L523.73 1044.95 L524.05 1041.36 L524.36 1038.72 L524.67 1043.09 L524.99 1040.65 L525.31 1044.5 L525.62 1049.07 L525.93 1044.09 L526.25 1045.33 L526.56 1046.73 L526.87 1046.23 L527.17 1044.7 L527.48 1047.15 L527.79 1051.39 L528.1 1051.52 L528.42 1054.01 L528.75 1056.8 L529.08 1059.53 L529.4 1062.66 L529.71 1066.65 L530.02 1064.74 L530.33 1062.98 L530.63 1066.35 L530.94 1066.65 L531.25 1067.34 L531.56 1064.83 L531.88 1064.73 L532.19 1063.77 L532.5 1063.95 L532.81 1062.34 L533.12 1059.51 L533.44 1060.27 L533.75 1059.3 L534.06 1056.21 L534.38 1056.52 L534.69 1057.9 L535 1057.13 L535.31 1056.06 L535.62 1056.49 L535.94 1054.68 L536.25 1053.38 L536.56 1055.37 L536.88 1055.73 L537.19 1055.57 L537.5 1056.99 L537.81 1058.06 L538.12 1059.85 L538.44 1061.16 L538.75 1060.84 L539.06 1060.84 L539.38 1059.88 L539.69 1061.3 L540 1061.54 L540.31 1063.64 L540.62 1064.95 L540.94 1065.7 L541.25 1065.41 L541.57 1064.37 L541.88 1064.92 L542.19 1064.92 L542.51 1061.15 L542.83 1055.59 L543.14 1057.05 L543.45 1054.21 L543.77 1054.44 L544.09 1054.56 L544.4 1055.51 L544.71 1055.78 L545.02 1056.78 L545.34 1057.42 L545.65 1059.74 L545.96 1059.56 L546.27 1062.74 L546.59 1064.8 L546.9 1068.02 L547.21 1065.92 L547.52 1065.43 L547.83 1064.7 L548.14 1063.72 L548.45 1061.6 L548.76 1060.79 L549.07 1060.92 L549.38 1061.29 L549.69 1061.92 L550 1059.64 L550.32 1058.87 L550.63 1058.4 L550.95 1057.93 L551.27 1056.27 L551.58 1054.81 L551.9 1052.73 L552.21 1054.98 L552.52 1056.89 L552.83 1056.8 L553.13 1059.28 L553.44 1059.25 L553.75 1064.39 L554.06 1065.45 L554.38 1063.78 L554.69 1063.21 L555 1062.45 L555.31 1061.02 L555.62 1062.24 L555.94 1060.07 L556.25 1059.23 L556.56 1060.83 L556.87 1065.54 L557.17 1063.88 L557.48 1066.65 L557.79 1066.93 L558.1 1068.98 L558.42 1066.33 L558.73 1066.26 L559.05 1062.51 L559.37 1059.59 L559.68 1057.92 L560 1055.08 L560.31 1056.31 L560.62 1061.29 L560.94 1061.44 L561.25 1062.1 L561.56 1066.25 L561.88 1067.31 L562.19 1070.05 L562.5 1068.38 L562.81 1067.84 L563.12 1068.26 L563.44 1067.71 L563.75 1067.5 L564.06 1067.98 L564.38 1066.92 L564.69 1066.71 L565 1065.73 L565.31 1062.66 L565.62 1062.01 L565.93 1062.79 L566.24 1059.61 L566.55 1059.65 L566.86 1059.36 L567.17 1059.76 L567.48 1055.34 L567.79 1058.33 L568.1 1053.91 L568.42 1054.72 L568.73 1058.86 L569.05 1055.73 L569.37 1059.39 L569.68 1058.67 L570 1060.81 L570.31 1061.96 L570.62 1061.2 L570.94 1059.98 L571.25 1060.49 L571.56 1059.85 L571.88 1059.88 L572.19 1062.82 L572.5 1062.21 L572.82 1063.06 L573.14 1062.44 L573.46 1061.6 L573.79 1059.46 L574.11 1057.67 L574.43 1059.17 L574.75 1058.35" fill="none" stroke="#0b3c5d" stroke-width="1.9" stroke-linejoin="miter"/>
<path d="M273.75 978.56 L274.06 985.8 L274.38 986.15 L274.69 985.97 L275 992.36 L275.32 995.54 L275.63 997.13 L275.95 998.74 L276.27 998.74 L276.58 998.26 L276.9 998.23 L277.2 1004.15 L277.5 1009.47 L277.8 1017.27 L278.1 1023.21 L278.41 1015.59 L278.71 1013.26 L279.02 1008.47 L279.33 1006.21 L279.64 1003.74 L279.94 998.31 L280.25 988.16 L280.58 994.74 L280.91 995.26 L281.24 1004.12 L281.57 1005.94 L281.9 1009.81 L282.21 1012.9 L282.52 1006.89 L282.82 1007.06 L283.13 1004.49 L283.44 1003.91 L283.75 1002.63 L284.06 1002.96 L284.38 999.82 L284.69 998.39 L285 997.09 L285.31 1000.21 L285.62 1011.84 L285.94 1018.16 L286.25 1022.6 L286.56 1025.77 L286.87 1031.41 L287.18 1035.87 L287.48 1036.8 L287.79 1039.99 L288.1 1043.24 L288.42 1045.84 L288.73 1046.01 L289.05 1048.36 L289.37 1047.42 L289.68 1047.84 L290 1050.65 L290.25 1050.03 L290.5 1047.86 L290.75 1046.99 L291 1045.23 L291.3 1048.11 L291.6 1051.2 L291.9 1052.9 L292.2 1055.28 L292.5 1055.84 L292.75 1053.04 L293 1048.2 L293.25 1048.85 L293.5 1047.76 L293.8 1053.64 L294.1 1055.56 L294.4 1060.92 L294.7 1058.24 L295 1053.71 L295.3 1053.9 L295.62 1061.19 L295.93 1063.94 L296.25 1070.43 L296.56 1070.34 L296.88 1064.85 L297.19 1064 L297.5 1063.18 L297.81 1064.11 L298.12 1059.8 L298.44 1057.92 L298.75 1058.64 L299.06 1062.39 L299.38 1061.65 L299.69 1062.92 L300 1063.93 L300.31 1063.02 L300.62 1058.34 L300.94 1055.78 L301.25 1052.76 L301.56 1056.52 L301.88 1058.68 L302.19 1060.99 L302.5 1064.66 L302.81 1064.93 L303.12 1062.94 L303.44 1063.37 L303.75 1066.02 L304.06 1063.37 L304.38 1060.1 L304.69 1058.06 L305 1060.2 L305.31 1058.32 L305.62 1058.45 L305.94 1058.8 L306.25 1058.24 L306.56 1061.87 L306.88 1064.27 L307.19 1065.87 L307.5 1065.22 L307.81 1067.96 L308.12 1068.8 L308.44 1068.2 L308.75 1064.33 L309.06 1063.62 L309.38 1060.42 L309.69 1059.04 L310 1056.77 L310.31 1056.86 L310.62 1059.8 L310.94 1060.23 L311.25 1062.3 L311.57 1062.59 L311.88 1065.19 L312.2 1070.05 L312.5 1070.32 L312.8 1069.28 L313.1 1068.86 L313.38 1066.74 L313.66 1065.41 L313.94 1064.86 L314.22 1062.8 L314.5 1061.65 L314.79 1061.78 L315.08 1060.6 L315.38 1061.48 L315.67 1060.92 L315.96 1059.11 L316.25 1057.5" fill="none" stroke="#ff5f5f" stroke-width="1.9" stroke-linejoin="miter"/>
<rect x="113.4" y="971.6" width="483.3" height="104.8" fill="none" stroke="#333333" stroke-width="1.2"/>
<path d="M135 1076.4V1073.4 M135 971.6V974.6 M166.33 1076.4V1073.4 M166.33 971.6V974.6 M197.66 1076.4V1073.4 M197.66 971.6V974.6 M228.99 1076.4V1073.4 M228.99 971.6V974.6 M260.32 1076.4V1073.4 M260.32 971.6V974.6 M291.65 1076.4V1073.4 M291.65 971.6V974.6 M322.98 1076.4V1073.4 M322.98 971.6V974.6 M354.31 1076.4V1073.4 M354.31 971.6V974.6 M385.64 1076.4V1073.4 M385.64 971.6V974.6 M416.97 1076.4V1073.4 M416.97 971.6V974.6 M448.3 1076.4V1073.4 M448.3 971.6V974.6 M479.63 1076.4V1073.4 M479.63 971.6V974.6 M510.96 1076.4V1073.4 M510.96 971.6V974.6 M542.29 1076.4V1073.4 M542.29 971.6V974.6 M573.62 1076.4V1073.4 M573.62 971.6V974.6 " stroke="#333333" stroke-width="1"/>
<path d="M113.4 1049.3H116.4 M596.7 1049.3H593.7 M113.4 1013.3H116.4 M596.7 1013.3H593.7 M113.4 977.3H116.4 M596.7 977.3H593.7 " stroke="#333333" stroke-width="1"/>
<path d="M113.4 1070.9H115.2 M596.7 1070.9H594.9 M113.4 1063.7H115.2 M596.7 1063.7H594.9 M113.4 1056.5H115.2 M596.7 1056.5H594.9 M113.4 1042.1H115.2 M596.7 1042.1H594.9 M113.4 1034.9H115.2 M596.7 1034.9H594.9 M113.4 1027.7H115.2 M596.7 1027.7H594.9 M113.4 1020.5H115.2 M596.7 1020.5H594.9 M113.4 1006.1H115.2 M596.7 1006.1H594.9 M113.4 998.9H115.2 M596.7 998.9H594.9 M113.4 991.7H115.2 M596.7 991.7H594.9 M113.4 984.5H115.2 M596.7 984.5H594.9 " stroke="#333333" stroke-width="0.9"/>
<text x="0" y="0" transform="translate(151.36 1090.1) scale(1.0400 1)" font-size="12" text-anchor="middle" fill="#2b2b2b" >Mon</text>
<text x="0" y="0" transform="translate(182.69 1090.1) scale(1.0400 1)" font-size="12" text-anchor="middle" fill="#2b2b2b" >Tue</text>
<text x="0" y="0" transform="translate(214.02 1090.1) scale(1.0400 1)" font-size="12" text-anchor="middle" fill="#2b2b2b" >Wed</text>
<text x="0" y="0" transform="translate(245.35 1090.1) scale(1.0400 1)" font-size="12" text-anchor="middle" fill="#2b2b2b" >Thu</text>
<text x="0" y="0" transform="translate(276.68 1090.1) scale(1.0400 1)" font-size="12" text-anchor="middle" fill="#2b2b2b" >Fri</text>
<text x="0" y="0" transform="translate(308.01 1090.1) scale(1.0400 1)" font-size="12" text-anchor="middle" fill="#2b2b2b" >Sat</text>
<text x="0" y="0" transform="translate(339.34 1090.1) scale(1.0400 1)" font-size="12" text-anchor="middle" fill="#2b2b2b" >Sun</text>
<text x="0" y="0" transform="translate(370.67 1090.1) scale(1.0400 1)" font-size="12" text-anchor="middle" fill="#2b2b2b" >Mon</text>
<text x="0" y="0" transform="translate(402 1090.1) scale(1.0400 1)" font-size="12" text-anchor="middle" fill="#2b2b2b" >Tue</text>
<text x="0" y="0" transform="translate(433.33 1090.1) scale(1.0400 1)" font-size="12" text-anchor="middle" fill="#2b2b2b" >Wed</text>
<text x="0" y="0" transform="translate(464.66 1090.1) scale(1.0400 1)" font-size="12" text-anchor="middle" fill="#2b2b2b" >Thu</text>
<text x="0" y="0" transform="translate(495.99 1090.1) scale(1.0400 1)" font-size="12" text-anchor="middle" fill="#2b2b2b" >Fri</text>
<text x="0" y="0" transform="translate(527.33 1090.1) scale(1.0400 1)" font-size="12" text-anchor="middle" fill="#2b2b2b" >Sat</text>
<text x="0" y="0" transform="translate(558.65 1090.1) scale(1.0400 1)" font-size="12" text-anchor="middle" fill="#2b2b2b" >Sun</text>
<text x="0" y="0" transform="translate(109.5 1054.1) scale(1.0400 1)" font-size="12" text-anchor="end" fill="#2b2b2b" >50</text>
<text x="0" y="0" transform="translate(109.5 1018.1) scale(1.0400 1)" font-size="12" text-anchor="end" fill="#2b2b2b" >100</text>
<text x="0" y="0" transform="translate(109.5 982.1) scale(1.0400 1)" font-size="12" text-anchor="end" fill="#2b2b2b" >150</text>
<text x="0" y="0" font-size="12" text-anchor="middle" fill="#2b2b2b" transform="translate(60.8 1024.1) rotate(-90) scale(1.0700 1)" dominant-baseline="central">Power [kW]</text>
<text x="11.3" y="1037.5" font-size="17" text-anchor="start" fill="#111" >(h)</text>
<path d="M335.8 965.2 Q323 949 308.5 964.5" fill="none" stroke="#111" stroke-width="1.2"/>
<path d="M306.1 966.1 L309.5 958.5 Q310 962.5 312.6 963.6 Z" fill="#111"/>
<path d="M498.4 1096 Q388.8 1124 286.5 1095" fill="none" stroke="#111" stroke-width="1.3"/>
<path d="M284 1093.5 L293.5 1094 Q289.5 1095.5 288.5 1099.5 Z" fill="#111"/>
<text x="623.8" y="20.6" font-size="15.4" text-anchor="start" fill="#111" >Initial</text>
<text x="623.8" y="37.73" font-size="15.4" text-anchor="start" fill="#111" >with</text>
<text x="623.8" y="54.86" font-size="15.4" text-anchor="start" fill="#111" >first</text>
<text x="623.8" y="71.99" font-size="15.4" text-anchor="start" fill="#111" >dashed</text>
<text x="623.8" y="89.12" font-size="15.4" text-anchor="start" fill="#111" >between</text>
<text x="623.8" y="106.25" font-size="15.4" text-anchor="start" fill="#111" >first</text>
<text x="623.8" y="195.6" font-size="15.4" text-anchor="start" fill="#111" >Energy</text>
<text x="623.8" y="212.5" font-size="15.4" text-anchor="start" fill="#111" >time</text>
<text x="623.8" y="229.4" font-size="15.4" text-anchor="start" fill="#111" >with</text>
<text x="623.8" y="246.3" font-size="15.4" text-anchor="start" fill="#111" >shaded</text>
<text x="623.8" y="350" font-size="15.4" text-anchor="start" fill="#111" >Estimated</text>
<text x="623.8" y="366.9" font-size="15.4" text-anchor="start" fill="#111" >ergy</text>
<text x="623.8" y="383.8" font-size="15.4" text-anchor="start" fill="#111" >estimated</text>
<text x="623.8" y="400.7" font-size="15.4" text-anchor="start" fill="#111" >(c) at</text>
<text x="623.8" y="417.6" font-size="15.4" text-anchor="start" fill="#111" >con</text>
<text x="623.8" y="521.9" font-size="15.4" text-anchor="start" fill="#111" >Energy</text>
<text x="623.8" y="538.8" font-size="15.4" text-anchor="start" fill="#111" >estimated</text>
<text x="623.8" y="555.7" font-size="15.4" text-anchor="start" fill="#111" >weekly</text>
<text x="623.8" y="572.6" font-size="15.4" text-anchor="start" fill="#111" >missing</text>
<text x="623.8" y="670" font-size="15.4" text-anchor="start" fill="#111" >Process</text>
<text x="623.8" y="720.6" font-size="15.4" text-anchor="start" fill="#111" >Results</text>
<text x="623.8" y="737.5" font-size="15.4" text-anchor="start" fill="#111" >with</text>
<text x="623.8" y="754.4" font-size="15.4" text-anchor="start" fill="#111" >and</text>
<text x="623.8" y="771.3" font-size="15.4" text-anchor="start" fill="#111" >tions</text>
<text x="623.8" y="870.6" font-size="15.4" text-anchor="start" fill="#111" >The</text>
<text x="623.8" y="887.5" font-size="15.4" text-anchor="start" fill="#111" >shows</text>
<text x="623.8" y="997.25" font-size="15.4" text-anchor="start" fill="#111" >Substitute</text>
<text x="623.8" y="1014.25" font-size="15.4" text-anchor="start" fill="#111" >method</text>
<text x="623.8" y="1031.25" font-size="15.4" text-anchor="start" fill="#111" >on</text>
<text x="623.8" y="1048.25" font-size="15.4" text-anchor="start" fill="#111" >(f) is</text>
<text x="623.8" y="1065.25" font-size="15.4" text-anchor="start" fill="#111" >select</text></svg></body></html>
